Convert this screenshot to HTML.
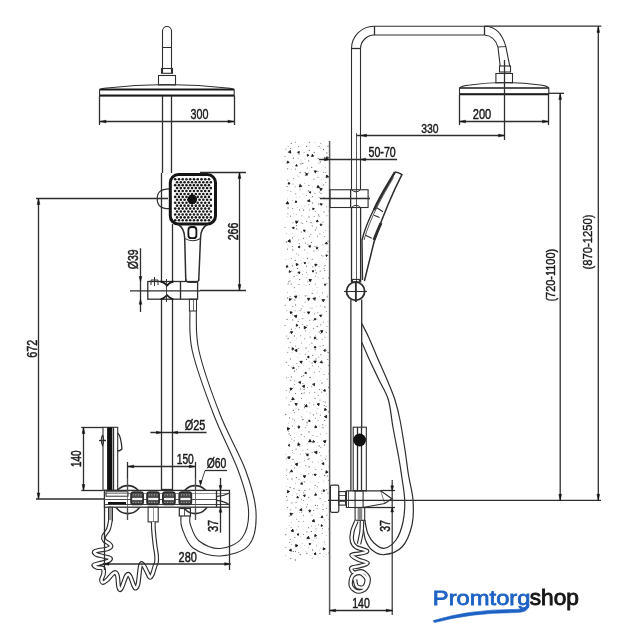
<!DOCTYPE html>
<html><head><meta charset="utf-8"><style>
html,body{margin:0;padding:0;background:#fff;width:626px;height:640px;overflow:hidden}
svg{display:block;will-change:transform}
text{font-family:"Liberation Sans",sans-serif}
</style></head><body>
<svg width="626" height="640" viewBox="0 0 626 640">
<path d="M162.5,73 L162.5,31 A4.5,4.5 0 0 1 171.5,31 L171.5,73" stroke="#2e2e2e" stroke-width="1.1" fill="none" />
<line x1="162.50" y1="47.50" x2="171.50" y2="47.50" stroke="#2e2e2e" stroke-width="1.0"/>
<rect x="161.5" y="68.5" width="11" height="4.8" rx="0" stroke="#2e2e2e" stroke-width="1.1" fill="none"/>
<rect x="158.5" y="75.5" width="17" height="9.5" rx="0" stroke="#2e2e2e" stroke-width="1.1" fill="none"/>
<path d="M99.6,95.6 L99.6,90 Q100,89 104,88.2 Q167,80.8 230,88.2 Q234,89 234.2,90 L234.2,95.6 Z" stroke="#2e2e2e" stroke-width="1.1" fill="none" />
<line x1="99.60" y1="89.50" x2="234.20" y2="89.50" stroke="#1a1a1a" stroke-width="1.8"/>
<line x1="99.60" y1="95.50" x2="234.20" y2="95.50" stroke="#1a1a1a" stroke-width="2.0"/>
<line x1="99.50" y1="96.00" x2="99.50" y2="125.00" stroke="#2e2e2e" stroke-width="1.3"/>
<line x1="234.50" y1="96.00" x2="234.50" y2="125.00" stroke="#2e2e2e" stroke-width="1.3"/>
<line x1="99.60" y1="121.50" x2="234.20" y2="121.50" stroke="#2e2e2e" stroke-width="1.3"/>
<polygon points="100.00,121.50 106.00,120.15 106.00,122.85" fill="#151515" stroke="#151515" stroke-width="0.5"/>
<polygon points="234.00,121.50 228.00,120.15 228.00,122.85" fill="#151515" stroke="#151515" stroke-width="0.5"/>
<text transform="translate(190.49,119.28) scale(0.752,1)" font-size="14.30" fill="#1a1a1a" stroke="#1a1a1a" stroke-width="0.47">300</text>
<line x1="162.50" y1="96.00" x2="162.50" y2="173.00" stroke="#2e2e2e" stroke-width="1.3"/>
<line x1="171.50" y1="96.00" x2="171.50" y2="173.00" stroke="#2e2e2e" stroke-width="1.3"/>
<line x1="161.50" y1="173.00" x2="161.50" y2="283.00" stroke="#2e2e2e" stroke-width="1.3"/>
<line x1="172.50" y1="224.00" x2="172.50" y2="283.00" stroke="#2e2e2e" stroke-width="1.3"/>
<line x1="161.50" y1="300.00" x2="161.50" y2="490.00" stroke="#2e2e2e" stroke-width="1.3"/>
<line x1="172.50" y1="300.00" x2="172.50" y2="490.00" stroke="#2e2e2e" stroke-width="1.3"/>
<line x1="161.50" y1="489.50" x2="172.50" y2="489.50" stroke="#2e2e2e" stroke-width="1.3"/>
<path d="M169,188.8 Q157,189 157.2,198.8 Q157,208.7 169,208.7" stroke="#2e2e2e" stroke-width="1.2" fill="none" />
<g fill="#1a1a1a"><circle cx="175.20" cy="179.30" r="1.3"/><circle cx="178.95" cy="179.30" r="1.3"/><circle cx="182.70" cy="179.30" r="1.3"/><circle cx="186.45" cy="179.30" r="1.3"/><circle cx="190.20" cy="179.30" r="1.3"/><circle cx="193.95" cy="179.30" r="1.3"/><circle cx="197.70" cy="179.30" r="1.3"/><circle cx="201.45" cy="179.30" r="1.3"/><circle cx="205.20" cy="179.30" r="1.3"/><circle cx="208.95" cy="179.30" r="1.3"/><circle cx="177.07" cy="182.23" r="1.3"/><circle cx="180.82" cy="182.23" r="1.3"/><circle cx="184.57" cy="182.23" r="1.3"/><circle cx="188.32" cy="182.23" r="1.3"/><circle cx="192.07" cy="182.23" r="1.3"/><circle cx="195.82" cy="182.23" r="1.3"/><circle cx="199.57" cy="182.23" r="1.3"/><circle cx="203.32" cy="182.23" r="1.3"/><circle cx="207.07" cy="182.23" r="1.3"/><circle cx="210.82" cy="182.23" r="1.3"/><circle cx="175.20" cy="185.16" r="1.3"/><circle cx="178.95" cy="185.16" r="1.3"/><circle cx="182.70" cy="185.16" r="1.3"/><circle cx="186.45" cy="185.16" r="1.3"/><circle cx="190.20" cy="185.16" r="1.3"/><circle cx="193.95" cy="185.16" r="1.3"/><circle cx="197.70" cy="185.16" r="1.3"/><circle cx="201.45" cy="185.16" r="1.3"/><circle cx="205.20" cy="185.16" r="1.3"/><circle cx="208.95" cy="185.16" r="1.3"/><circle cx="177.07" cy="188.09" r="1.3"/><circle cx="180.82" cy="188.09" r="1.3"/><circle cx="184.57" cy="188.09" r="1.3"/><circle cx="188.32" cy="188.09" r="1.3"/><circle cx="192.07" cy="188.09" r="1.3"/><circle cx="195.82" cy="188.09" r="1.3"/><circle cx="199.57" cy="188.09" r="1.3"/><circle cx="203.32" cy="188.09" r="1.3"/><circle cx="207.07" cy="188.09" r="1.3"/><circle cx="210.82" cy="188.09" r="1.3"/><circle cx="175.20" cy="191.02" r="1.3"/><circle cx="178.95" cy="191.02" r="1.3"/><circle cx="182.70" cy="191.02" r="1.3"/><circle cx="186.45" cy="191.02" r="1.3"/><circle cx="190.20" cy="191.02" r="1.3"/><circle cx="193.95" cy="191.02" r="1.3"/><circle cx="197.70" cy="191.02" r="1.3"/><circle cx="201.45" cy="191.02" r="1.3"/><circle cx="205.20" cy="191.02" r="1.3"/><circle cx="208.95" cy="191.02" r="1.3"/><circle cx="177.07" cy="193.95" r="1.3"/><circle cx="180.82" cy="193.95" r="1.3"/><circle cx="184.57" cy="193.95" r="1.3"/><circle cx="188.32" cy="193.95" r="1.3"/><circle cx="192.07" cy="193.95" r="1.3"/><circle cx="195.82" cy="193.95" r="1.3"/><circle cx="199.57" cy="193.95" r="1.3"/><circle cx="203.32" cy="193.95" r="1.3"/><circle cx="207.07" cy="193.95" r="1.3"/><circle cx="210.82" cy="193.95" r="1.3"/><circle cx="175.20" cy="196.88" r="1.3"/><circle cx="178.95" cy="196.88" r="1.3"/><circle cx="182.70" cy="196.88" r="1.3"/><circle cx="186.45" cy="196.88" r="1.3"/><circle cx="190.20" cy="196.88" r="1.3"/><circle cx="193.95" cy="196.88" r="1.3"/><circle cx="197.70" cy="196.88" r="1.3"/><circle cx="201.45" cy="196.88" r="1.3"/><circle cx="205.20" cy="196.88" r="1.3"/><circle cx="208.95" cy="196.88" r="1.3"/><circle cx="177.07" cy="199.81" r="1.3"/><circle cx="180.82" cy="199.81" r="1.3"/><circle cx="184.57" cy="199.81" r="1.3"/><circle cx="188.32" cy="199.81" r="1.3"/><circle cx="192.07" cy="199.81" r="1.3"/><circle cx="195.82" cy="199.81" r="1.3"/><circle cx="199.57" cy="199.81" r="1.3"/><circle cx="203.32" cy="199.81" r="1.3"/><circle cx="207.07" cy="199.81" r="1.3"/><circle cx="210.82" cy="199.81" r="1.3"/><circle cx="175.20" cy="202.74" r="1.3"/><circle cx="178.95" cy="202.74" r="1.3"/><circle cx="182.70" cy="202.74" r="1.3"/><circle cx="186.45" cy="202.74" r="1.3"/><circle cx="190.20" cy="202.74" r="1.3"/><circle cx="193.95" cy="202.74" r="1.3"/><circle cx="197.70" cy="202.74" r="1.3"/><circle cx="201.45" cy="202.74" r="1.3"/><circle cx="205.20" cy="202.74" r="1.3"/><circle cx="208.95" cy="202.74" r="1.3"/><circle cx="177.07" cy="205.67" r="1.3"/><circle cx="180.82" cy="205.67" r="1.3"/><circle cx="184.57" cy="205.67" r="1.3"/><circle cx="188.32" cy="205.67" r="1.3"/><circle cx="192.07" cy="205.67" r="1.3"/><circle cx="195.82" cy="205.67" r="1.3"/><circle cx="199.57" cy="205.67" r="1.3"/><circle cx="203.32" cy="205.67" r="1.3"/><circle cx="207.07" cy="205.67" r="1.3"/><circle cx="210.82" cy="205.67" r="1.3"/><circle cx="175.20" cy="208.60" r="1.3"/><circle cx="178.95" cy="208.60" r="1.3"/><circle cx="182.70" cy="208.60" r="1.3"/><circle cx="186.45" cy="208.60" r="1.3"/><circle cx="190.20" cy="208.60" r="1.3"/><circle cx="193.95" cy="208.60" r="1.3"/><circle cx="197.70" cy="208.60" r="1.3"/><circle cx="201.45" cy="208.60" r="1.3"/><circle cx="205.20" cy="208.60" r="1.3"/><circle cx="208.95" cy="208.60" r="1.3"/><circle cx="177.07" cy="211.53" r="1.3"/><circle cx="180.82" cy="211.53" r="1.3"/><circle cx="184.57" cy="211.53" r="1.3"/><circle cx="188.32" cy="211.53" r="1.3"/><circle cx="192.07" cy="211.53" r="1.3"/><circle cx="195.82" cy="211.53" r="1.3"/><circle cx="199.57" cy="211.53" r="1.3"/><circle cx="203.32" cy="211.53" r="1.3"/><circle cx="207.07" cy="211.53" r="1.3"/><circle cx="210.82" cy="211.53" r="1.3"/><circle cx="175.20" cy="214.46" r="1.3"/><circle cx="178.95" cy="214.46" r="1.3"/><circle cx="182.70" cy="214.46" r="1.3"/><circle cx="186.45" cy="214.46" r="1.3"/><circle cx="190.20" cy="214.46" r="1.3"/><circle cx="193.95" cy="214.46" r="1.3"/><circle cx="197.70" cy="214.46" r="1.3"/><circle cx="201.45" cy="214.46" r="1.3"/><circle cx="205.20" cy="214.46" r="1.3"/><circle cx="208.95" cy="214.46" r="1.3"/><circle cx="177.07" cy="217.39" r="1.3"/><circle cx="180.82" cy="217.39" r="1.3"/><circle cx="184.57" cy="217.39" r="1.3"/><circle cx="188.32" cy="217.39" r="1.3"/><circle cx="192.07" cy="217.39" r="1.3"/><circle cx="195.82" cy="217.39" r="1.3"/><circle cx="199.57" cy="217.39" r="1.3"/><circle cx="203.32" cy="217.39" r="1.3"/><circle cx="207.07" cy="217.39" r="1.3"/><circle cx="210.82" cy="217.39" r="1.3"/><circle cx="175.20" cy="220.32" r="1.3"/><circle cx="178.95" cy="220.32" r="1.3"/><circle cx="182.70" cy="220.32" r="1.3"/><circle cx="186.45" cy="220.32" r="1.3"/><circle cx="190.20" cy="220.32" r="1.3"/><circle cx="193.95" cy="220.32" r="1.3"/><circle cx="197.70" cy="220.32" r="1.3"/><circle cx="201.45" cy="220.32" r="1.3"/><circle cx="205.20" cy="220.32" r="1.3"/><circle cx="208.95" cy="220.32" r="1.3"/></g>
<circle cx="192.2" cy="199.4" r="4.8" stroke="#2e2e2e" stroke-width="0" fill="#111"/>
<rect x="170.3" y="174.6" width="45.2" height="49.4" rx="8" stroke="#141414" stroke-width="3.0" fill="none"/>
<path d="M178.2,224.5 Q184.5,228 184.7,238.4 L185.8,281" stroke="#2e2e2e" stroke-width="1.5" fill="none" />
<path d="M207.5,224.5 Q200.5,228 200.5,238.4 L198.7,281" stroke="#2e2e2e" stroke-width="1.5" fill="none" />
<rect x="188.4" y="227" width="8" height="11.2" rx="3" stroke="#141414" stroke-width="1.8" fill="none"/>
<path d="M184.7,238.4 Q192.5,243 200.5,238.4" stroke="#2e2e2e" stroke-width="1.1" fill="none" />
<line x1="200.00" y1="172.50" x2="246.00" y2="172.50" stroke="#2e2e2e" stroke-width="1.3"/>
<line x1="200.00" y1="290.50" x2="246.00" y2="290.50" stroke="#2e2e2e" stroke-width="1.3"/>
<line x1="239.50" y1="172.50" x2="239.50" y2="290.50" stroke="#2e2e2e" stroke-width="1.3"/>
<polygon points="239.50,172.50 238.15,178.50 240.85,178.50" fill="#151515" stroke="#151515" stroke-width="0.5"/>
<polygon points="239.50,290.50 238.15,284.50 240.85,284.50" fill="#151515" stroke="#151515" stroke-width="0.5"/>
<text transform="translate(237.57,240.25) rotate(-90) scale(0.688,1)" font-size="15.28" fill="#1a1a1a" stroke="#1a1a1a" stroke-width="0.51">266</text>
<line x1="36.00" y1="198.50" x2="168.00" y2="198.50" stroke="#2e2e2e" stroke-width="1.3"/>
<line x1="36.00" y1="499.00" x2="104.00" y2="499.00" stroke="#2e2e2e" stroke-width="1.3"/>
<line x1="38.50" y1="198.50" x2="38.50" y2="499.00" stroke="#2e2e2e" stroke-width="1.3"/>
<polygon points="38.50,198.50 37.15,204.50 39.85,204.50" fill="#151515" stroke="#151515" stroke-width="0.5"/>
<polygon points="38.50,499.00 37.15,493.00 39.85,493.00" fill="#151515" stroke="#151515" stroke-width="0.5"/>
<text transform="translate(36.68,357.77) rotate(-90) scale(0.722,1)" font-size="15.00" fill="#1a1a1a" stroke="#1a1a1a" stroke-width="0.48">672</text>
<rect x="147.8" y="281.5" width="49.8" height="17.7" rx="0" stroke="#2e2e2e" stroke-width="1.3" fill="none"/>
<line x1="130.00" y1="290.80" x2="200.00" y2="290.80" stroke="#2e2e2e" stroke-width="1.3"/>
<path d="M160.5,281.5 Q163,281.5 167,285.5 Q171,281.5 173.5,281.5" stroke="#1a1a1a" stroke-width="1.8" fill="none" />
<path d="M160.5,299.2 Q163,299.2 167,295.2 Q171,299.2 173.5,299.2" stroke="#1a1a1a" stroke-width="1.8" fill="none" />
<line x1="166.50" y1="279.00" x2="166.50" y2="302.00" stroke="#2e2e2e" stroke-width="0.9"/>
<line x1="180.50" y1="281.50" x2="180.50" y2="299.20" stroke="#2e2e2e" stroke-width="1.4"/>
<line x1="140.50" y1="248.20" x2="140.50" y2="312.00" stroke="#2e2e2e" stroke-width="1.3"/>
<polygon points="140.50,281.50 139.15,276.50 141.85,276.50" fill="#151515" stroke="#151515" stroke-width="0.5"/>
<polygon points="140.50,299.20 139.15,304.20 141.85,304.20" fill="#151515" stroke="#151515" stroke-width="0.5"/>
<text transform="translate(138.47,269.19) rotate(-90) scale(0.736,1)" font-size="14.30" fill="#1a1a1a" stroke="#1a1a1a" stroke-width="0.48">Ø39</text>
<path d="M151,285 L151,280 L158,280 L158,285 M154.5,277 L154.5,286" stroke="#2e2e2e" stroke-width="1.0" fill="none" />
<path d="M185.8,279 Q186,282.5 189.5,282.5 L195.5,282.5 Q198.7,282.5 198.7,279" stroke="#2e2e2e" stroke-width="1.2" fill="none" />
<rect x="189.4" y="299.2" width="7.1" height="11.8" rx="0" stroke="#2e2e2e" stroke-width="1.0" fill="none"/>
<line x1="193.50" y1="300.00" x2="193.50" y2="311.00" stroke="#2e2e2e" stroke-width="0.7"/>
<path d="M189.90,311.00 C190.30,317.67 188.32,333.67 192.30,351.00 C196.28,368.33 206.18,395.17 213.80,415.00 C221.42,434.83 232.22,454.17 238.00,470.00 C243.78,485.83 247.83,498.67 248.50,510.00 C249.17,521.33 246.75,531.58 242.00,538.00 C237.25,544.42 227.17,548.00 220.00,548.50 C212.83,549.00 203.92,544.92 199.00,541.00 C194.08,537.08 192.00,529.17 190.50,525.00 C189.00,520.83 190.08,517.50 190.00,516.00" stroke="#2e2e2e" stroke-width="1.1" fill="none" />
<path d="M196.30,311.00 C196.75,317.67 195.00,333.67 199.00,351.00 C203.00,368.33 212.55,395.17 220.30,415.00 C228.05,434.83 239.55,453.83 245.50,470.00 C251.45,486.17 255.42,499.50 256.00,512.00 C256.58,524.50 255.00,537.67 249.00,545.00 C243.00,552.33 229.33,555.50 220.00,556.00 C210.67,556.50 199.33,552.67 193.00,548.00 C186.67,543.33 184.00,533.33 182.00,528.00 C180.00,522.67 181.17,518.00 181.00,516.00" stroke="#2e2e2e" stroke-width="1.1" fill="none" />
<line x1="150.40" y1="432.50" x2="206.60" y2="432.50" stroke="#2e2e2e" stroke-width="1.3"/>
<polygon points="161.50,432.50 156.50,431.15 156.50,433.85" fill="#151515" stroke="#151515" stroke-width="0.5"/>
<polygon points="172.50,432.50 177.50,431.15 177.50,433.85" fill="#151515" stroke="#151515" stroke-width="0.5"/>
<text transform="translate(184.79,430.26) scale(0.751,1)" font-size="14.56" fill="#1a1a1a" stroke="#1a1a1a" stroke-width="0.47">Ø25</text>
<line x1="127.70" y1="466.50" x2="195.30" y2="466.50" stroke="#2e2e2e" stroke-width="1.3"/>
<polygon points="127.70,466.50 133.70,465.15 133.70,467.85" fill="#151515" stroke="#151515" stroke-width="0.5"/>
<polygon points="195.30,466.50 189.30,465.15 189.30,467.85" fill="#151515" stroke="#151515" stroke-width="0.5"/>
<line x1="127.50" y1="462.00" x2="127.50" y2="520.00" stroke="#2e2e2e" stroke-width="1.3"/>
<line x1="195.50" y1="462.00" x2="195.50" y2="520.00" stroke="#2e2e2e" stroke-width="1.3"/>
<text transform="translate(176.71,464.09) scale(0.747,1)" font-size="13.73" fill="#1a1a1a" stroke="#1a1a1a" stroke-width="0.47">150</text>
<text transform="translate(206.81,468.18) scale(0.753,1)" font-size="13.76" fill="#1a1a1a" stroke="#1a1a1a" stroke-width="0.46">Ø60</text>
<line x1="205.00" y1="470.50" x2="227.10" y2="470.50" stroke="#2e2e2e" stroke-width="1.3"/>
<line x1="205.00" y1="470.50" x2="200.50" y2="484.50" stroke="#2e2e2e" stroke-width="0.9"/>
<polygon points="200.50,485.50 199.15,480.50 201.85,480.50" fill="#151515" stroke="#151515" stroke-width="0.5"/>
<line x1="81.30" y1="427.50" x2="103.00" y2="427.50" stroke="#2e2e2e" stroke-width="1.3"/>
<line x1="81.30" y1="490.50" x2="103.00" y2="490.50" stroke="#2e2e2e" stroke-width="1.3"/>
<line x1="83.50" y1="427.50" x2="83.50" y2="490.50" stroke="#2e2e2e" stroke-width="1.3"/>
<polygon points="83.50,427.50 82.15,433.50 84.85,433.50" fill="#151515" stroke="#151515" stroke-width="0.5"/>
<polygon points="83.50,490.50 82.15,484.50 84.85,484.50" fill="#151515" stroke="#151515" stroke-width="0.5"/>
<text transform="translate(81.27,467.08) rotate(-90) scale(0.671,1)" font-size="15.00" fill="#1a1a1a" stroke="#1a1a1a" stroke-width="0.52">140</text>
<rect x="103" y="427.3" width="14.7" height="63" rx="0" stroke="#2e2e2e" stroke-width="1.1" fill="none"/>
<rect x="107.1" y="427.3" width="5.2" height="63" rx="0" stroke="#2e2e2e" stroke-width="0" fill="#111"/>
<line x1="113.50" y1="427.30" x2="113.50" y2="490.00" stroke="#2e2e2e" stroke-width="1.3"/>
<path d="M117.7,433 Q121,436 122,449 Q120,451 117.7,451" stroke="#2e2e2e" stroke-width="1.3" fill="none" />
<path d="M102.5,435 Q100,440 102.5,445.6 Q105,440 102.5,435" stroke="#2e2e2e" stroke-width="1.1" fill="none" />
<line x1="99.00" y1="440.50" x2="106.00" y2="440.50" stroke="#2e2e2e" stroke-width="1.3"/>
<circle cx="127.8" cy="499.6" r="14" stroke="#2e2e2e" stroke-width="1.6" fill="none"/>
<circle cx="195.2" cy="499.6" r="14" stroke="#2e2e2e" stroke-width="1.6" fill="none"/>
<rect x="104.4" y="490.4" width="125.1" height="16.8" rx="0" stroke="#2e2e2e" stroke-width="1.3" fill="#fff"/>
<line x1="104.40" y1="493.50" x2="229.50" y2="493.50" stroke="#666" stroke-width="0.7"/>
<line x1="104.40" y1="499.50" x2="216.00" y2="499.50" stroke="#555" stroke-width="1.0"/>
<line x1="104.40" y1="504.50" x2="229.50" y2="504.50" stroke="#2e2e2e" stroke-width="0.9"/>
<rect x="106" y="491.8" width="22" height="4.4" rx="0" stroke="#2e2e2e" stroke-width="1.0" fill="none"/>
<rect x="108" y="502" width="18" height="2.2" rx="0" stroke="#2e2e2e" stroke-width="0" fill="#111"/>
<rect x="131.1" y="492.2" width="12" height="12.2" rx="2.5" stroke="#2e2e2e" stroke-width="1.8" fill="#4a4a4a"/>
<rect x="132.2" y="497.9" width="10" height="2.2" rx="0" stroke="#2e2e2e" stroke-width="0" fill="#f0f0f0"/>
<circle cx="133.2" cy="494.8" r="0.6" fill="#ccc"/><circle cx="135.8" cy="494.8" r="0.6" fill="#ccc"/><circle cx="138.4" cy="494.8" r="0.6" fill="#ccc"/><circle cx="141.0" cy="494.8" r="0.6" fill="#ccc"/>
<circle cx="133.2" cy="502.4" r="0.6" fill="#aaa"/><circle cx="135.8" cy="502.4" r="0.6" fill="#aaa"/><circle cx="138.4" cy="502.4" r="0.6" fill="#aaa"/><circle cx="141.0" cy="502.4" r="0.6" fill="#aaa"/>
<rect x="147.1" y="492.2" width="12" height="12.2" rx="2.5" stroke="#2e2e2e" stroke-width="1.8" fill="#4a4a4a"/>
<rect x="148.2" y="497.9" width="10" height="2.2" rx="0" stroke="#2e2e2e" stroke-width="0" fill="#f0f0f0"/>
<circle cx="149.2" cy="494.8" r="0.6" fill="#ccc"/><circle cx="151.8" cy="494.8" r="0.6" fill="#ccc"/><circle cx="154.4" cy="494.8" r="0.6" fill="#ccc"/><circle cx="157.0" cy="494.8" r="0.6" fill="#ccc"/>
<circle cx="149.2" cy="502.4" r="0.6" fill="#aaa"/><circle cx="151.8" cy="502.4" r="0.6" fill="#aaa"/><circle cx="154.4" cy="502.4" r="0.6" fill="#aaa"/><circle cx="157.0" cy="502.4" r="0.6" fill="#aaa"/>
<rect x="162.9" y="492.2" width="12" height="12.2" rx="2.5" stroke="#2e2e2e" stroke-width="1.8" fill="#4a4a4a"/>
<rect x="164" y="497.9" width="10" height="2.2" rx="0" stroke="#2e2e2e" stroke-width="0" fill="#f0f0f0"/>
<circle cx="165.0" cy="494.8" r="0.6" fill="#ccc"/><circle cx="167.6" cy="494.8" r="0.6" fill="#ccc"/><circle cx="170.2" cy="494.8" r="0.6" fill="#ccc"/><circle cx="172.8" cy="494.8" r="0.6" fill="#ccc"/>
<circle cx="165.0" cy="502.4" r="0.6" fill="#aaa"/><circle cx="167.6" cy="502.4" r="0.6" fill="#aaa"/><circle cx="170.2" cy="502.4" r="0.6" fill="#aaa"/><circle cx="172.8" cy="502.4" r="0.6" fill="#aaa"/>
<rect x="179.3" y="492.2" width="12" height="12.2" rx="2.5" stroke="#2e2e2e" stroke-width="1.8" fill="#4a4a4a"/>
<rect x="180.4" y="497.9" width="10" height="2.2" rx="0" stroke="#2e2e2e" stroke-width="0" fill="#f0f0f0"/>
<circle cx="181.4" cy="494.8" r="0.6" fill="#ccc"/><circle cx="184.0" cy="494.8" r="0.6" fill="#ccc"/><circle cx="186.6" cy="494.8" r="0.6" fill="#ccc"/><circle cx="189.2" cy="494.8" r="0.6" fill="#ccc"/>
<circle cx="181.4" cy="502.4" r="0.6" fill="#aaa"/><circle cx="184.0" cy="502.4" r="0.6" fill="#aaa"/><circle cx="186.6" cy="502.4" r="0.6" fill="#aaa"/><circle cx="189.2" cy="502.4" r="0.6" fill="#aaa"/>
<line x1="216.50" y1="490.40" x2="216.50" y2="507.20" stroke="#2e2e2e" stroke-width="1.3"/>
<path d="M216.8,496.4 Q224,496 229.5,493" stroke="#2e2e2e" stroke-width="1.1" fill="none" />
<path d="M216.8,500.4 Q224,501 229.5,505" stroke="#2e2e2e" stroke-width="1.1" fill="none" />
<line x1="127.50" y1="478.00" x2="127.50" y2="520.00" stroke="#555" stroke-width="0.8"/>
<line x1="195.50" y1="478.00" x2="195.50" y2="520.00" stroke="#555" stroke-width="0.8"/>
<line x1="220.50" y1="478.00" x2="220.50" y2="532.70" stroke="#2e2e2e" stroke-width="1.3"/>
<polygon points="220.50,490.40 219.15,485.40 221.85,485.40" fill="#151515" stroke="#151515" stroke-width="0.5"/>
<polygon points="220.50,507.20 219.15,512.20 221.85,512.20" fill="#151515" stroke="#151515" stroke-width="0.5"/>
<text transform="translate(218.47,532.07) rotate(-90) scale(0.728,1)" font-size="15.28" fill="#1a1a1a" stroke="#1a1a1a" stroke-width="0.48">37</text>
<rect x="108.5" y="507.2" width="4" height="13.4" rx="0" stroke="#2e2e2e" stroke-width="1.0" fill="#999"/>
<rect x="148.1" y="507.2" width="10.1" height="14.7" rx="0" stroke="#2e2e2e" stroke-width="1.1" fill="none"/>
<line x1="153.50" y1="507.20" x2="153.50" y2="522.00" stroke="#777" stroke-width="0.8"/>
<rect x="179.3" y="508.5" width="11.1" height="7.5" rx="0" stroke="#2e2e2e" stroke-width="1.2" fill="none"/>
<line x1="184.50" y1="509.00" x2="184.50" y2="516.00" stroke="#2e2e2e" stroke-width="0.8"/>
<path d="M110.50,520.00 C110.17,521.50 109.65,526.25 108.50,529.00 C107.35,531.75 104.27,534.58 103.60,536.50 C102.93,538.42 103.60,539.33 104.50,540.50 C105.40,541.67 107.92,542.50 109.00,543.50 C110.08,544.50 111.33,545.58 111.00,546.50 C110.67,547.42 109.00,548.37 107.00,549.00 C105.00,549.63 101.12,549.83 99.00,550.30 C96.88,550.77 94.72,551.10 94.30,551.80 C93.88,552.50 94.88,553.72 96.50,554.50 C98.12,555.28 101.67,555.83 104.00,556.50 C106.33,557.17 110.00,557.67 110.50,558.50 C111.00,559.33 108.92,560.67 107.00,561.50 C105.08,562.33 101.20,562.92 99.00,563.50 C96.80,564.08 94.13,564.33 93.80,565.00 C93.47,565.67 95.47,566.95 97.00,567.50 C98.53,568.05 101.92,567.22 103.00,568.30 C104.08,569.38 103.75,572.13 103.50,574.00 C103.25,575.87 101.58,578.08 101.50,579.50 C101.42,580.92 102.08,582.42 103.00,582.50 C103.92,582.58 105.50,581.33 107.00,580.00 C108.50,578.67 110.62,575.75 112.00,574.50 C113.38,573.25 114.38,572.25 115.30,572.50 C116.22,572.75 116.97,573.75 117.50,576.00 C118.03,578.25 118.08,583.70 118.50,586.00 C118.92,588.30 119.42,589.63 120.00,589.80 C120.58,589.97 121.00,589.22 122.00,587.00 C123.00,584.78 124.95,578.63 126.00,576.50 C127.05,574.37 127.55,574.12 128.30,574.20 C129.05,574.28 129.63,575.20 130.50,577.00 C131.37,578.80 132.67,583.13 133.50,585.00 C134.33,586.87 134.75,588.37 135.50,588.20 C136.25,588.03 137.25,587.37 138.00,584.00 C138.75,580.63 139.42,571.42 140.00,568.00 C140.58,564.58 140.83,563.83 141.50,563.50 C142.17,563.17 142.92,564.25 144.00,566.00 C145.08,567.75 147.00,572.10 148.00,574.00 C149.00,575.90 149.25,577.40 150.00,577.40 C150.75,577.40 151.67,575.90 152.50,574.00 C153.33,572.10 154.33,568.00 155.00,566.00 C155.67,564.00 156.25,563.83 156.50,562.00 C156.75,560.17 156.75,557.83 156.50,555.00 C156.25,552.17 155.50,549.17 155.00,545.00 C154.50,540.83 153.78,533.83 153.50,530.00 C153.22,526.17 153.33,523.33 153.30,522.00" stroke="#2e2e2e" stroke-width="4.8" fill="none" />
<path d="M110.50,520.00 C110.17,521.50 109.65,526.25 108.50,529.00 C107.35,531.75 104.27,534.58 103.60,536.50 C102.93,538.42 103.60,539.33 104.50,540.50 C105.40,541.67 107.92,542.50 109.00,543.50 C110.08,544.50 111.33,545.58 111.00,546.50 C110.67,547.42 109.00,548.37 107.00,549.00 C105.00,549.63 101.12,549.83 99.00,550.30 C96.88,550.77 94.72,551.10 94.30,551.80 C93.88,552.50 94.88,553.72 96.50,554.50 C98.12,555.28 101.67,555.83 104.00,556.50 C106.33,557.17 110.00,557.67 110.50,558.50 C111.00,559.33 108.92,560.67 107.00,561.50 C105.08,562.33 101.20,562.92 99.00,563.50 C96.80,564.08 94.13,564.33 93.80,565.00 C93.47,565.67 95.47,566.95 97.00,567.50 C98.53,568.05 101.92,567.22 103.00,568.30 C104.08,569.38 103.75,572.13 103.50,574.00 C103.25,575.87 101.58,578.08 101.50,579.50 C101.42,580.92 102.08,582.42 103.00,582.50 C103.92,582.58 105.50,581.33 107.00,580.00 C108.50,578.67 110.62,575.75 112.00,574.50 C113.38,573.25 114.38,572.25 115.30,572.50 C116.22,572.75 116.97,573.75 117.50,576.00 C118.03,578.25 118.08,583.70 118.50,586.00 C118.92,588.30 119.42,589.63 120.00,589.80 C120.58,589.97 121.00,589.22 122.00,587.00 C123.00,584.78 124.95,578.63 126.00,576.50 C127.05,574.37 127.55,574.12 128.30,574.20 C129.05,574.28 129.63,575.20 130.50,577.00 C131.37,578.80 132.67,583.13 133.50,585.00 C134.33,586.87 134.75,588.37 135.50,588.20 C136.25,588.03 137.25,587.37 138.00,584.00 C138.75,580.63 139.42,571.42 140.00,568.00 C140.58,564.58 140.83,563.83 141.50,563.50 C142.17,563.17 142.92,564.25 144.00,566.00 C145.08,567.75 147.00,572.10 148.00,574.00 C149.00,575.90 149.25,577.40 150.00,577.40 C150.75,577.40 151.67,575.90 152.50,574.00 C153.33,572.10 154.33,568.00 155.00,566.00 C155.67,564.00 156.25,563.83 156.50,562.00 C156.75,560.17 156.75,557.83 156.50,555.00 C156.25,552.17 155.50,549.17 155.00,545.00 C154.50,540.83 153.78,533.83 153.50,530.00 C153.22,526.17 153.33,523.33 153.30,522.00" stroke="#fff" stroke-width="2.5" fill="none" />
<line x1="102.80" y1="564.00" x2="230.60" y2="564.00" stroke="#2e2e2e" stroke-width="1.3"/>
<polygon points="102.80,564.00 108.80,562.65 108.80,565.35" fill="#151515" stroke="#151515" stroke-width="0.5"/>
<polygon points="230.60,564.00 224.60,562.65 224.60,565.35" fill="#151515" stroke="#151515" stroke-width="0.5"/>
<line x1="104.50" y1="507.00" x2="104.50" y2="570.00" stroke="#2e2e2e" stroke-width="1.3"/>
<line x1="229.50" y1="507.00" x2="229.50" y2="570.00" stroke="#2e2e2e" stroke-width="1.3"/>
<text transform="translate(178.53,562.28) scale(0.768,1)" font-size="14.30" fill="#1a1a1a" stroke="#1a1a1a" stroke-width="0.46">280</text>
<g fill="#1a1a1a"><polygon points="288.4,152.3 290.3,150.4 290.9,153.1" stroke="#111" stroke-width="0.8"/><polygon points="297.5,152.3 299.3,151.4 299.1,153.3" stroke="#111" stroke-width="0.8"/><polygon points="307.5,156.3 307.2,154.5 308.9,155.1" stroke="#111" stroke-width="0.8"/><polygon points="314.0,155.9 311.6,156.6 312.3,154.2" stroke="#111" stroke-width="0.8"/><polygon points="326.0,156.9 328.4,157.4 326.8,159.2" stroke="#111" stroke-width="0.8"/><polygon points="289.1,162.6 286.9,163.0 287.7,160.9" stroke="#111" stroke-width="0.8"/><polygon points="295.5,165.7 296.8,164.5 297.2,166.2" stroke="#111" stroke-width="0.8"/><polygon points="305.8,173.2 307.9,173.9 306.1,175.4" stroke="#111" stroke-width="0.8"/><polygon points="315.2,172.8 314.4,170.7 316.6,171.1" stroke="#111" stroke-width="0.8"/><polygon points="326.7,174.9 328.6,176.8 326.1,177.5" stroke="#111" stroke-width="0.8"/><polygon points="290.0,183.9 288.0,184.1 288.9,182.2" stroke="#111" stroke-width="0.8"/><polygon points="299.3,186.9 300.1,184.4 301.8,186.4" stroke="#111" stroke-width="0.8"/><polygon points="310.3,193.3 309.1,192.1 310.8,191.7" stroke="#111" stroke-width="0.8"/><polygon points="316.9,187.8 318.0,185.3 319.6,187.5" stroke="#111" stroke-width="0.8"/><polygon points="320.8,190.7 319.8,188.3 322.3,188.6" stroke="#111" stroke-width="0.8"/><polygon points="287.5,201.5 288.8,203.9 286.0,203.8" stroke="#111" stroke-width="0.8"/><polygon points="297.0,202.2 295.2,202.4 295.9,200.7" stroke="#111" stroke-width="0.8"/><polygon points="307.7,201.2 309.3,199.5 310.0,201.7" stroke="#111" stroke-width="0.8"/><polygon points="312.7,208.0 314.4,208.7 312.9,209.8" stroke="#111" stroke-width="0.8"/><polygon points="321.1,205.4 320.3,203.6 322.3,203.9" stroke="#111" stroke-width="0.8"/><polygon points="294.2,227.2 293.6,229.1 292.2,227.6" stroke="#111" stroke-width="0.8"/><polygon points="295.7,220.9 298.1,221.8 296.1,223.5" stroke="#111" stroke-width="0.8"/><polygon points="304.3,231.8 303.4,230.1 305.3,230.2" stroke="#111" stroke-width="0.8"/><polygon points="318.3,221.6 316.3,221.8 317.2,219.9" stroke="#111" stroke-width="0.8"/><polygon points="320.1,224.1 322.1,224.3 320.9,225.9" stroke="#111" stroke-width="0.8"/><polygon points="287.8,241.2 290.0,239.6 290.3,242.3" stroke="#111" stroke-width="0.8"/><polygon points="299.7,247.9 298.0,247.1 299.6,246.0" stroke="#111" stroke-width="0.8"/><polygon points="310.2,247.4 308.6,246.2 310.5,245.4" stroke="#111" stroke-width="0.8"/><polygon points="318.1,247.8 316.8,249.2 316.2,247.4" stroke="#111" stroke-width="0.8"/><polygon points="327.4,244.0 325.2,243.7 326.5,242.0" stroke="#111" stroke-width="0.8"/><polygon points="286.8,265.5 288.2,266.8 286.3,267.4" stroke="#111" stroke-width="0.8"/><polygon points="296.6,265.9 296.0,263.6 298.3,264.2" stroke="#111" stroke-width="0.8"/><polygon points="305.0,264.1 303.9,262.7 305.6,262.4" stroke="#111" stroke-width="0.8"/><polygon points="315.5,266.3 314.8,264.1 317.1,264.5" stroke="#111" stroke-width="0.8"/><polygon points="326.5,256.6 325.8,254.9 327.5,255.2" stroke="#111" stroke-width="0.8"/><polygon points="289.1,272.4 289.5,270.5 290.9,271.8" stroke="#111" stroke-width="0.8"/><polygon points="300.0,271.9 299.3,273.8 297.9,272.2" stroke="#111" stroke-width="0.8"/><polygon points="309.0,279.5 311.5,279.6 310.2,281.7" stroke="#111" stroke-width="0.8"/><polygon points="313.8,270.7 313.0,272.2 312.1,270.8" stroke="#111" stroke-width="0.8"/><polygon points="324.5,283.9 326.1,284.5 324.8,285.6" stroke="#111" stroke-width="0.8"/><polygon points="291.3,299.4 289.5,300.5 289.5,298.4" stroke="#111" stroke-width="0.8"/><polygon points="296.9,295.9 295.9,298.2 294.4,296.2" stroke="#111" stroke-width="0.8"/><polygon points="309.9,298.3 308.6,300.5 307.3,298.3" stroke="#111" stroke-width="0.8"/><polygon points="315.5,297.7 314.8,300.3 312.9,298.4" stroke="#111" stroke-width="0.8"/><polygon points="321.9,299.7 324.5,299.5 323.3,301.8" stroke="#111" stroke-width="0.8"/><polygon points="290.0,311.7 292.3,312.1 290.8,313.9" stroke="#111" stroke-width="0.8"/><polygon points="296.9,315.2 296.2,317.8 294.2,315.8" stroke="#111" stroke-width="0.8"/><polygon points="307.3,311.9 309.8,311.9 308.6,314.1" stroke="#111" stroke-width="0.8"/><polygon points="315.0,318.1 315.9,319.7 314.1,319.7" stroke="#111" stroke-width="0.8"/><polygon points="320.8,317.0 319.5,315.2 321.7,314.9" stroke="#111" stroke-width="0.8"/><polygon points="292.7,331.7 291.5,333.7 290.4,331.6" stroke="#111" stroke-width="0.8"/><polygon points="296.4,324.2 298.1,325.4 296.3,326.3" stroke="#111" stroke-width="0.8"/><polygon points="304.2,326.3 306.5,327.5 304.3,328.9" stroke="#111" stroke-width="0.8"/><polygon points="314.4,337.0 316.2,338.0 314.4,339.1" stroke="#111" stroke-width="0.8"/><polygon points="323.0,330.6 321.8,332.9 320.5,330.7" stroke="#111" stroke-width="0.8"/><polygon points="292.2,350.1 292.0,347.7 294.1,348.7" stroke="#111" stroke-width="0.8"/><polygon points="297.0,349.2 296.8,351.8 294.7,350.3" stroke="#111" stroke-width="0.8"/><polygon points="309.0,358.0 307.3,357.0 309.0,356.0" stroke="#111" stroke-width="0.8"/><polygon points="314.1,347.8 315.0,346.1 316.1,347.8" stroke="#111" stroke-width="0.8"/><polygon points="325.3,349.4 325.2,351.5 323.5,350.4" stroke="#111" stroke-width="0.8"/><polygon points="294.5,368.1 292.7,368.7 293.1,367.0" stroke="#111" stroke-width="0.8"/><polygon points="299.8,361.4 302.3,361.2 301.2,363.4" stroke="#111" stroke-width="0.8"/><polygon points="306.4,373.6 304.7,373.1 306.0,371.9" stroke="#111" stroke-width="0.8"/><polygon points="315.2,363.2 313.7,361.1 316.3,360.9" stroke="#111" stroke-width="0.8"/><polygon points="320.1,362.5 321.6,360.7 322.4,363.0" stroke="#111" stroke-width="0.8"/><polygon points="292.5,388.6 290.7,390.4 290.0,388.0" stroke="#111" stroke-width="0.8"/><polygon points="300.4,383.6 298.6,382.3 300.6,381.3" stroke="#111" stroke-width="0.8"/><polygon points="304.3,387.6 302.3,386.2 304.5,385.2" stroke="#111" stroke-width="0.8"/><polygon points="312.5,384.3 314.7,383.4 314.4,385.8" stroke="#111" stroke-width="0.8"/><polygon points="324.9,389.3 325.4,391.3 323.4,390.8" stroke="#111" stroke-width="0.8"/><polygon points="292.7,397.4 294.4,399.4 291.7,399.9" stroke="#111" stroke-width="0.8"/><polygon points="297.3,403.5 296.2,405.6 294.9,403.6" stroke="#111" stroke-width="0.8"/><polygon points="306.6,404.4 307.2,407.0 304.7,406.2" stroke="#111" stroke-width="0.8"/><polygon points="318.8,405.7 317.0,404.0 319.3,403.4" stroke="#111" stroke-width="0.8"/><polygon points="325.0,408.2 326.6,409.9 324.3,410.4" stroke="#111" stroke-width="0.8"/><polygon points="289.8,428.6 287.7,430.3 287.3,427.6" stroke="#111" stroke-width="0.8"/><polygon points="299.9,426.6 298.9,428.4 297.8,426.7" stroke="#111" stroke-width="0.8"/><polygon points="308.4,421.2 309.5,419.8 310.2,421.5" stroke="#111" stroke-width="0.8"/><polygon points="317.0,427.1 314.9,427.9 315.3,425.7" stroke="#111" stroke-width="0.8"/><polygon points="326.6,418.0 324.4,416.6 326.7,415.4" stroke="#111" stroke-width="0.8"/><polygon points="289.7,446.2 288.0,445.5 289.5,444.3" stroke="#111" stroke-width="0.8"/><polygon points="298.1,443.0 300.2,444.6 297.8,445.6" stroke="#111" stroke-width="0.8"/><polygon points="311.3,441.9 308.6,441.8 310.0,439.5" stroke="#111" stroke-width="0.8"/><polygon points="313.4,440.4 314.6,442.0 312.6,442.3" stroke="#111" stroke-width="0.8"/><polygon points="323.3,440.9 325.9,440.5 325.0,443.0" stroke="#111" stroke-width="0.8"/><polygon points="290.2,456.7 289.1,459.1 287.6,456.9" stroke="#111" stroke-width="0.8"/><polygon points="295.1,464.1 297.6,463.1 297.2,465.8" stroke="#111" stroke-width="0.8"/><polygon points="306.2,454.9 308.2,453.8 308.1,456.1" stroke="#111" stroke-width="0.8"/><polygon points="314.5,452.3 317.0,451.1 316.8,453.9" stroke="#111" stroke-width="0.8"/><polygon points="321.8,463.7 323.7,462.5 323.9,464.8" stroke="#111" stroke-width="0.8"/><polygon points="290.4,471.8 291.5,469.8 292.6,471.8" stroke="#111" stroke-width="0.8"/><polygon points="300.5,483.8 302.1,482.5 302.4,484.4" stroke="#111" stroke-width="0.8"/><polygon points="305.7,475.6 304.6,477.9 303.1,475.8" stroke="#111" stroke-width="0.8"/><polygon points="314.4,474.0 316.3,474.4 315.0,475.9" stroke="#111" stroke-width="0.8"/><polygon points="328.1,472.2 325.8,473.2 326.1,470.7" stroke="#111" stroke-width="0.8"/><polygon points="287.5,492.9 287.4,490.4 289.6,491.5" stroke="#111" stroke-width="0.8"/><polygon points="297.5,496.2 298.6,497.7 296.8,497.9" stroke="#111" stroke-width="0.8"/><polygon points="304.8,496.8 303.3,495.5 305.2,494.8" stroke="#111" stroke-width="0.8"/><polygon points="314.6,495.3 315.6,493.4 316.7,495.2" stroke="#111" stroke-width="0.8"/><polygon points="323.2,489.8 325.1,490.4 323.7,491.7" stroke="#111" stroke-width="0.8"/><polygon points="290.0,513.1 292.6,513.6 290.9,515.6" stroke="#111" stroke-width="0.8"/><polygon points="301.5,508.5 301.9,510.9 299.6,510.0" stroke="#111" stroke-width="0.8"/><polygon points="310.8,510.4 309.7,512.2 308.7,510.4" stroke="#111" stroke-width="0.8"/><polygon points="314.5,522.0 312.0,521.2 314.0,519.4" stroke="#111" stroke-width="0.8"/><polygon points="323.0,517.6 321.0,517.5 322.1,515.8" stroke="#111" stroke-width="0.8"/><polygon points="293.5,531.7 291.0,531.0 292.8,529.2" stroke="#111" stroke-width="0.8"/><polygon points="298.3,535.5 297.0,534.3 298.6,533.7" stroke="#111" stroke-width="0.8"/><polygon points="309.4,538.8 306.7,538.3 308.5,536.2" stroke="#111" stroke-width="0.8"/><polygon points="314.9,534.4 316.7,535.7 314.7,536.6" stroke="#111" stroke-width="0.8"/><polygon points="322.7,525.8 321.0,526.3 321.4,524.6" stroke="#111" stroke-width="0.8"/><polygon points="291.4,551.2 289.2,550.3 291.1,548.9" stroke="#111" stroke-width="0.8"/><polygon points="298.0,545.5 295.8,547.0 295.6,544.4" stroke="#111" stroke-width="0.8"/><polygon points="310.9,543.7 309.6,545.1 309.1,543.4" stroke="#111" stroke-width="0.8"/><polygon points="314.0,554.0 315.5,552.6 315.9,554.7" stroke="#111" stroke-width="0.8"/><polygon points="325.3,549.0 323.1,550.0 323.3,547.7" stroke="#111" stroke-width="0.8"/></g>
<g fill="#707070"><circle cx="288.1" cy="146.7" r="0.5"/><circle cx="291.2" cy="143.4" r="0.55"/><circle cx="295.6" cy="142.3" r="0.5"/><circle cx="298.6" cy="146.4" r="0.55"/><circle cx="306.5" cy="146.4" r="0.65"/><circle cx="309.5" cy="142.3" r="0.55"/><circle cx="314.9" cy="142.7" r="0.4"/><circle cx="319.1" cy="146.3" r="0.65"/><circle cx="320.8" cy="143.2" r="0.55"/><circle cx="328.0" cy="146.2" r="0.65"/><circle cx="285.9" cy="149.0" r="0.55"/><circle cx="290.7" cy="148.4" r="0.55"/><circle cx="298.2" cy="153.9" r="0.4"/><circle cx="299.2" cy="154.1" r="0.55"/><circle cx="304.1" cy="152.2" r="0.5"/><circle cx="309.3" cy="150.4" r="0.65"/><circle cx="314.2" cy="152.5" r="0.65"/><circle cx="320.1" cy="147.9" r="0.4"/><circle cx="323.5" cy="149.5" r="0.65"/><circle cx="326.8" cy="152.9" r="0.65"/><circle cx="285.0" cy="156.3" r="0.55"/><circle cx="293.4" cy="158.2" r="0.65"/><circle cx="298.1" cy="158.4" r="0.4"/><circle cx="301.0" cy="160.0" r="0.4"/><circle cx="305.0" cy="159.0" r="0.4"/><circle cx="308.7" cy="160.9" r="0.65"/><circle cx="313.5" cy="155.7" r="0.65"/><circle cx="318.2" cy="158.5" r="0.65"/><circle cx="324.4" cy="157.4" r="0.65"/><circle cx="327.2" cy="157.0" r="0.55"/><circle cx="287.1" cy="163.1" r="0.55"/><circle cx="292.3" cy="166.3" r="0.4"/><circle cx="293.9" cy="162.9" r="0.4"/><circle cx="301.0" cy="164.0" r="0.65"/><circle cx="302.8" cy="163.4" r="0.65"/><circle cx="307.2" cy="168.0" r="0.55"/><circle cx="311.7" cy="167.4" r="0.65"/><circle cx="319.0" cy="163.0" r="0.5"/><circle cx="320.4" cy="161.9" r="0.65"/><circle cx="325.2" cy="167.8" r="0.5"/><circle cx="287.7" cy="168.8" r="0.65"/><circle cx="291.4" cy="169.4" r="0.4"/><circle cx="295.4" cy="169.1" r="0.55"/><circle cx="300.1" cy="172.5" r="0.65"/><circle cx="305.2" cy="172.4" r="0.65"/><circle cx="308.6" cy="173.1" r="0.5"/><circle cx="315.6" cy="173.0" r="0.5"/><circle cx="317.9" cy="171.4" r="0.55"/><circle cx="323.7" cy="172.3" r="0.55"/><circle cx="325.8" cy="172.2" r="0.5"/><circle cx="287.8" cy="179.9" r="0.5"/><circle cx="293.6" cy="178.2" r="0.5"/><circle cx="297.7" cy="175.1" r="0.4"/><circle cx="298.2" cy="176.5" r="0.4"/><circle cx="305.3" cy="175.5" r="0.55"/><circle cx="307.3" cy="175.4" r="0.5"/><circle cx="313.8" cy="179.1" r="0.55"/><circle cx="317.9" cy="177.2" r="0.55"/><circle cx="321.7" cy="179.8" r="0.4"/><circle cx="328.1" cy="177.8" r="0.5"/><circle cx="287.0" cy="186.6" r="0.65"/><circle cx="293.0" cy="184.0" r="0.55"/><circle cx="295.1" cy="186.7" r="0.5"/><circle cx="300.1" cy="184.0" r="0.4"/><circle cx="304.6" cy="183.7" r="0.4"/><circle cx="308.9" cy="185.4" r="0.65"/><circle cx="312.7" cy="186.8" r="0.4"/><circle cx="317.2" cy="187.7" r="0.4"/><circle cx="323.3" cy="184.9" r="0.55"/><circle cx="325.8" cy="182.5" r="0.55"/><circle cx="287.9" cy="190.5" r="0.4"/><circle cx="290.8" cy="191.3" r="0.55"/><circle cx="295.7" cy="193.7" r="0.55"/><circle cx="300.2" cy="189.8" r="0.5"/><circle cx="303.0" cy="193.9" r="0.4"/><circle cx="308.6" cy="191.0" r="0.65"/><circle cx="314.9" cy="193.3" r="0.55"/><circle cx="319.3" cy="192.0" r="0.5"/><circle cx="321.0" cy="193.4" r="0.55"/><circle cx="328.2" cy="189.8" r="0.4"/><circle cx="287.4" cy="198.9" r="0.4"/><circle cx="292.3" cy="200.5" r="0.4"/><circle cx="296.4" cy="197.1" r="0.4"/><circle cx="299.7" cy="196.9" r="0.4"/><circle cx="306.6" cy="195.6" r="0.5"/><circle cx="307.4" cy="200.6" r="0.65"/><circle cx="312.5" cy="196.6" r="0.55"/><circle cx="319.2" cy="197.7" r="0.55"/><circle cx="323.8" cy="197.3" r="0.5"/><circle cx="326.8" cy="198.7" r="0.4"/><circle cx="288.1" cy="208.0" r="0.65"/><circle cx="292.7" cy="208.5" r="0.55"/><circle cx="297.6" cy="207.3" r="0.4"/><circle cx="302.1" cy="208.3" r="0.4"/><circle cx="304.9" cy="206.6" r="0.4"/><circle cx="308.9" cy="204.7" r="0.5"/><circle cx="312.5" cy="202.9" r="0.65"/><circle cx="318.8" cy="204.0" r="0.65"/><circle cx="322.1" cy="203.8" r="0.4"/><circle cx="326.7" cy="206.8" r="0.55"/><circle cx="287.9" cy="213.8" r="0.5"/><circle cx="293.4" cy="213.7" r="0.4"/><circle cx="296.4" cy="214.7" r="0.4"/><circle cx="299.6" cy="209.9" r="0.55"/><circle cx="303.6" cy="210.2" r="0.65"/><circle cx="309.6" cy="210.1" r="0.5"/><circle cx="315.3" cy="211.3" r="0.55"/><circle cx="318.6" cy="214.9" r="0.65"/><circle cx="324.0" cy="211.9" r="0.65"/><circle cx="328.6" cy="210.9" r="0.4"/><circle cx="287.1" cy="216.8" r="0.4"/><circle cx="290.4" cy="216.2" r="0.65"/><circle cx="298.1" cy="220.7" r="0.55"/><circle cx="301.7" cy="215.7" r="0.5"/><circle cx="306.5" cy="221.2" r="0.55"/><circle cx="309.0" cy="217.0" r="0.65"/><circle cx="314.1" cy="216.4" r="0.5"/><circle cx="319.2" cy="216.3" r="0.5"/><circle cx="323.0" cy="222.1" r="0.55"/><circle cx="326.9" cy="215.7" r="0.5"/><circle cx="285.0" cy="227.6" r="0.5"/><circle cx="293.0" cy="222.7" r="0.55"/><circle cx="296.5" cy="225.7" r="0.65"/><circle cx="301.3" cy="222.7" r="0.55"/><circle cx="302.7" cy="223.4" r="0.5"/><circle cx="311.0" cy="222.7" r="0.65"/><circle cx="312.3" cy="225.8" r="0.65"/><circle cx="316.5" cy="227.7" r="0.55"/><circle cx="321.6" cy="224.8" r="0.55"/><circle cx="329.0" cy="226.6" r="0.4"/><circle cx="286.6" cy="233.5" r="0.4"/><circle cx="292.3" cy="233.4" r="0.4"/><circle cx="296.7" cy="228.9" r="0.65"/><circle cx="301.3" cy="232.1" r="0.55"/><circle cx="305.1" cy="232.0" r="0.4"/><circle cx="310.8" cy="234.6" r="0.5"/><circle cx="315.4" cy="229.9" r="0.65"/><circle cx="319.9" cy="233.9" r="0.55"/><circle cx="323.5" cy="232.6" r="0.4"/><circle cx="325.7" cy="230.2" r="0.4"/><circle cx="286.4" cy="242.0" r="0.65"/><circle cx="292.6" cy="237.9" r="0.65"/><circle cx="294.2" cy="236.6" r="0.4"/><circle cx="298.8" cy="239.9" r="0.5"/><circle cx="303.4" cy="238.3" r="0.65"/><circle cx="309.6" cy="236.2" r="0.5"/><circle cx="311.5" cy="242.3" r="0.65"/><circle cx="317.6" cy="236.1" r="0.65"/><circle cx="324.3" cy="236.6" r="0.5"/><circle cx="328.0" cy="241.2" r="0.65"/><circle cx="287.1" cy="248.6" r="0.4"/><circle cx="292.6" cy="246.5" r="0.55"/><circle cx="298.1" cy="247.7" r="0.4"/><circle cx="299.3" cy="243.6" r="0.55"/><circle cx="305.5" cy="243.1" r="0.65"/><circle cx="307.9" cy="244.6" r="0.55"/><circle cx="315.0" cy="246.5" r="0.5"/><circle cx="316.9" cy="246.0" r="0.55"/><circle cx="322.6" cy="244.8" r="0.5"/><circle cx="327.1" cy="243.7" r="0.5"/><circle cx="287.5" cy="249.3" r="0.5"/><circle cx="292.8" cy="250.0" r="0.65"/><circle cx="296.3" cy="253.8" r="0.55"/><circle cx="298.6" cy="255.0" r="0.55"/><circle cx="304.6" cy="250.0" r="0.5"/><circle cx="308.0" cy="253.0" r="0.4"/><circle cx="313.9" cy="250.9" r="0.55"/><circle cx="318.4" cy="250.0" r="0.4"/><circle cx="321.5" cy="255.2" r="0.5"/><circle cx="327.9" cy="251.6" r="0.5"/><circle cx="285.8" cy="259.6" r="0.4"/><circle cx="291.4" cy="258.6" r="0.5"/><circle cx="295.2" cy="260.4" r="0.65"/><circle cx="300.9" cy="260.2" r="0.4"/><circle cx="303.3" cy="258.7" r="0.4"/><circle cx="307.6" cy="258.5" r="0.65"/><circle cx="312.2" cy="259.4" r="0.55"/><circle cx="316.9" cy="262.2" r="0.4"/><circle cx="323.0" cy="256.1" r="0.5"/><circle cx="326.4" cy="259.2" r="0.4"/><circle cx="287.1" cy="265.4" r="0.65"/><circle cx="292.7" cy="265.9" r="0.65"/><circle cx="297.5" cy="268.4" r="0.65"/><circle cx="301.8" cy="263.4" r="0.4"/><circle cx="306.6" cy="266.2" r="0.65"/><circle cx="308.8" cy="262.8" r="0.4"/><circle cx="312.7" cy="266.8" r="0.65"/><circle cx="319.0" cy="266.7" r="0.55"/><circle cx="324.1" cy="268.6" r="0.5"/><circle cx="325.1" cy="265.7" r="0.65"/><circle cx="289.3" cy="272.6" r="0.4"/><circle cx="291.7" cy="271.0" r="0.55"/><circle cx="296.7" cy="275.8" r="0.4"/><circle cx="302.6" cy="274.3" r="0.55"/><circle cx="306.4" cy="272.3" r="0.5"/><circle cx="308.0" cy="274.4" r="0.4"/><circle cx="315.4" cy="270.1" r="0.5"/><circle cx="316.3" cy="273.0" r="0.65"/><circle cx="320.2" cy="271.1" r="0.55"/><circle cx="324.7" cy="270.6" r="0.65"/><circle cx="288.9" cy="281.7" r="0.65"/><circle cx="290.0" cy="280.8" r="0.5"/><circle cx="294.0" cy="276.4" r="0.55"/><circle cx="299.6" cy="279.5" r="0.65"/><circle cx="306.5" cy="277.5" r="0.4"/><circle cx="307.9" cy="281.8" r="0.55"/><circle cx="315.4" cy="276.3" r="0.5"/><circle cx="318.1" cy="277.8" r="0.4"/><circle cx="323.1" cy="278.2" r="0.55"/><circle cx="328.8" cy="278.0" r="0.65"/><circle cx="288.1" cy="283.8" r="0.65"/><circle cx="291.2" cy="284.1" r="0.55"/><circle cx="294.3" cy="287.6" r="0.55"/><circle cx="299.0" cy="284.5" r="0.55"/><circle cx="306.1" cy="285.4" r="0.4"/><circle cx="309.6" cy="284.5" r="0.55"/><circle cx="315.3" cy="284.1" r="0.5"/><circle cx="317.0" cy="287.2" r="0.4"/><circle cx="322.2" cy="283.4" r="0.4"/><circle cx="326.9" cy="283.2" r="0.55"/><circle cx="287.4" cy="292.5" r="0.4"/><circle cx="290.1" cy="296.4" r="0.5"/><circle cx="294.9" cy="291.6" r="0.4"/><circle cx="299.0" cy="295.7" r="0.4"/><circle cx="305.3" cy="295.9" r="0.65"/><circle cx="307.0" cy="295.7" r="0.4"/><circle cx="312.2" cy="293.4" r="0.55"/><circle cx="317.2" cy="292.9" r="0.4"/><circle cx="322.5" cy="293.1" r="0.5"/><circle cx="327.2" cy="294.9" r="0.4"/><circle cx="287.7" cy="298.0" r="0.65"/><circle cx="291.8" cy="298.2" r="0.5"/><circle cx="294.9" cy="300.1" r="0.65"/><circle cx="299.3" cy="297.8" r="0.4"/><circle cx="305.1" cy="302.3" r="0.5"/><circle cx="308.4" cy="300.5" r="0.65"/><circle cx="314.9" cy="299.8" r="0.55"/><circle cx="319.6" cy="296.6" r="0.4"/><circle cx="324.2" cy="300.3" r="0.5"/><circle cx="327.3" cy="296.8" r="0.65"/><circle cx="285.2" cy="305.3" r="0.55"/><circle cx="292.8" cy="306.6" r="0.5"/><circle cx="295.5" cy="304.9" r="0.65"/><circle cx="301.2" cy="308.8" r="0.65"/><circle cx="302.9" cy="306.0" r="0.55"/><circle cx="310.1" cy="307.9" r="0.4"/><circle cx="312.0" cy="308.3" r="0.5"/><circle cx="316.4" cy="306.3" r="0.4"/><circle cx="320.2" cy="306.0" r="0.5"/><circle cx="325.0" cy="307.0" r="0.65"/><circle cx="286.9" cy="310.5" r="0.4"/><circle cx="292.4" cy="314.8" r="0.5"/><circle cx="295.1" cy="310.8" r="0.5"/><circle cx="300.0" cy="310.5" r="0.5"/><circle cx="304.2" cy="312.2" r="0.5"/><circle cx="307.2" cy="312.7" r="0.4"/><circle cx="314.6" cy="313.8" r="0.5"/><circle cx="317.8" cy="312.6" r="0.5"/><circle cx="321.9" cy="315.2" r="0.5"/><circle cx="326.4" cy="311.6" r="0.5"/><circle cx="287.1" cy="319.4" r="0.65"/><circle cx="292.7" cy="319.9" r="0.65"/><circle cx="298.2" cy="321.3" r="0.65"/><circle cx="299.1" cy="319.3" r="0.4"/><circle cx="302.8" cy="318.6" r="0.55"/><circle cx="309.7" cy="320.2" r="0.55"/><circle cx="313.7" cy="320.5" r="0.5"/><circle cx="317.0" cy="319.1" r="0.5"/><circle cx="323.4" cy="322.0" r="0.5"/><circle cx="328.0" cy="321.6" r="0.4"/><circle cx="285.1" cy="325.6" r="0.65"/><circle cx="291.4" cy="329.2" r="0.65"/><circle cx="295.2" cy="328.7" r="0.4"/><circle cx="299.5" cy="327.6" r="0.65"/><circle cx="302.8" cy="324.5" r="0.5"/><circle cx="307.1" cy="325.6" r="0.65"/><circle cx="313.5" cy="328.2" r="0.55"/><circle cx="317.2" cy="326.5" r="0.65"/><circle cx="320.8" cy="324.9" r="0.55"/><circle cx="327.0" cy="326.5" r="0.5"/><circle cx="286.7" cy="336.1" r="0.5"/><circle cx="289.9" cy="332.7" r="0.5"/><circle cx="294.4" cy="336.0" r="0.65"/><circle cx="300.7" cy="335.7" r="0.55"/><circle cx="305.5" cy="330.7" r="0.5"/><circle cx="309.5" cy="332.6" r="0.4"/><circle cx="315.6" cy="336.1" r="0.5"/><circle cx="319.2" cy="332.0" r="0.65"/><circle cx="320.7" cy="333.6" r="0.65"/><circle cx="326.3" cy="332.4" r="0.65"/><circle cx="288.1" cy="338.5" r="0.65"/><circle cx="290.3" cy="342.2" r="0.55"/><circle cx="296.7" cy="338.6" r="0.4"/><circle cx="301.5" cy="343.1" r="0.5"/><circle cx="304.7" cy="338.7" r="0.55"/><circle cx="310.1" cy="337.1" r="0.65"/><circle cx="311.9" cy="343.1" r="0.65"/><circle cx="317.0" cy="339.5" r="0.55"/><circle cx="322.3" cy="339.2" r="0.55"/><circle cx="324.9" cy="337.2" r="0.55"/><circle cx="288.9" cy="347.6" r="0.55"/><circle cx="293.0" cy="349.7" r="0.65"/><circle cx="295.5" cy="346.0" r="0.55"/><circle cx="298.3" cy="348.5" r="0.5"/><circle cx="306.0" cy="348.0" r="0.65"/><circle cx="309.7" cy="344.2" r="0.4"/><circle cx="315.1" cy="349.7" r="0.65"/><circle cx="320.1" cy="346.3" r="0.5"/><circle cx="323.2" cy="345.6" r="0.65"/><circle cx="326.2" cy="350.3" r="0.5"/><circle cx="287.7" cy="352.3" r="0.55"/><circle cx="292.4" cy="352.1" r="0.4"/><circle cx="297.9" cy="357.1" r="0.4"/><circle cx="299.3" cy="353.8" r="0.4"/><circle cx="305.3" cy="354.3" r="0.55"/><circle cx="308.2" cy="351.2" r="0.4"/><circle cx="312.8" cy="355.3" r="0.65"/><circle cx="318.8" cy="357.0" r="0.5"/><circle cx="320.9" cy="354.7" r="0.65"/><circle cx="328.1" cy="352.5" r="0.65"/><circle cx="286.3" cy="362.3" r="0.65"/><circle cx="290.4" cy="358.9" r="0.55"/><circle cx="296.9" cy="363.5" r="0.5"/><circle cx="302.1" cy="363.9" r="0.4"/><circle cx="306.5" cy="359.4" r="0.65"/><circle cx="309.3" cy="361.8" r="0.4"/><circle cx="312.1" cy="363.1" r="0.65"/><circle cx="316.0" cy="359.0" r="0.65"/><circle cx="321.3" cy="361.5" r="0.55"/><circle cx="327.7" cy="359.5" r="0.55"/><circle cx="288.8" cy="365.4" r="0.5"/><circle cx="291.9" cy="366.9" r="0.5"/><circle cx="296.5" cy="369.6" r="0.5"/><circle cx="298.8" cy="366.6" r="0.55"/><circle cx="303.6" cy="365.3" r="0.4"/><circle cx="309.1" cy="368.7" r="0.5"/><circle cx="312.6" cy="365.8" r="0.55"/><circle cx="318.6" cy="366.7" r="0.5"/><circle cx="320.4" cy="368.8" r="0.4"/><circle cx="328.4" cy="365.3" r="0.55"/><circle cx="288.2" cy="377.5" r="0.4"/><circle cx="291.2" cy="376.9" r="0.65"/><circle cx="294.6" cy="371.2" r="0.65"/><circle cx="301.7" cy="376.4" r="0.55"/><circle cx="303.6" cy="375.7" r="0.65"/><circle cx="310.4" cy="377.4" r="0.65"/><circle cx="314.4" cy="372.2" r="0.55"/><circle cx="319.3" cy="371.8" r="0.5"/><circle cx="323.9" cy="374.5" r="0.55"/><circle cx="328.5" cy="373.7" r="0.5"/><circle cx="286.4" cy="377.7" r="0.5"/><circle cx="290.6" cy="380.2" r="0.55"/><circle cx="294.8" cy="380.8" r="0.55"/><circle cx="300.6" cy="381.3" r="0.5"/><circle cx="302.9" cy="383.6" r="0.55"/><circle cx="309.9" cy="377.6" r="0.55"/><circle cx="313.5" cy="384.3" r="0.5"/><circle cx="320.2" cy="380.3" r="0.4"/><circle cx="322.0" cy="383.0" r="0.65"/><circle cx="327.1" cy="379.0" r="0.55"/><circle cx="286.2" cy="390.6" r="0.5"/><circle cx="293.8" cy="387.3" r="0.4"/><circle cx="294.6" cy="384.5" r="0.5"/><circle cx="300.6" cy="388.9" r="0.55"/><circle cx="304.2" cy="389.4" r="0.55"/><circle cx="307.3" cy="387.4" r="0.5"/><circle cx="311.7" cy="386.8" r="0.55"/><circle cx="319.4" cy="389.6" r="0.65"/><circle cx="322.0" cy="389.7" r="0.4"/><circle cx="328.7" cy="387.5" r="0.65"/><circle cx="286.1" cy="397.2" r="0.4"/><circle cx="289.4" cy="392.0" r="0.55"/><circle cx="295.5" cy="393.5" r="0.55"/><circle cx="301.8" cy="393.5" r="0.65"/><circle cx="304.2" cy="392.9" r="0.55"/><circle cx="309.6" cy="392.8" r="0.5"/><circle cx="314.7" cy="392.5" r="0.5"/><circle cx="318.2" cy="395.6" r="0.5"/><circle cx="321.7" cy="392.1" r="0.55"/><circle cx="326.1" cy="394.0" r="0.4"/><circle cx="286.8" cy="398.2" r="0.4"/><circle cx="290.8" cy="401.4" r="0.5"/><circle cx="293.9" cy="399.0" r="0.4"/><circle cx="301.5" cy="398.5" r="0.55"/><circle cx="304.5" cy="404.3" r="0.5"/><circle cx="309.2" cy="403.1" r="0.5"/><circle cx="315.0" cy="398.3" r="0.65"/><circle cx="320.0" cy="400.0" r="0.5"/><circle cx="323.6" cy="401.4" r="0.4"/><circle cx="325.3" cy="402.1" r="0.65"/><circle cx="289.0" cy="404.9" r="0.55"/><circle cx="293.3" cy="410.4" r="0.65"/><circle cx="296.0" cy="408.4" r="0.4"/><circle cx="298.7" cy="409.6" r="0.65"/><circle cx="304.5" cy="407.7" r="0.65"/><circle cx="309.2" cy="407.1" r="0.4"/><circle cx="313.7" cy="404.8" r="0.65"/><circle cx="317.8" cy="408.6" r="0.4"/><circle cx="324.3" cy="405.6" r="0.65"/><circle cx="326.0" cy="406.3" r="0.55"/><circle cx="285.8" cy="414.5" r="0.65"/><circle cx="289.6" cy="417.9" r="0.65"/><circle cx="294.3" cy="412.6" r="0.5"/><circle cx="301.8" cy="416.7" r="0.55"/><circle cx="307.0" cy="411.8" r="0.4"/><circle cx="310.1" cy="413.0" r="0.55"/><circle cx="313.4" cy="414.9" r="0.65"/><circle cx="316.7" cy="413.2" r="0.5"/><circle cx="320.5" cy="415.1" r="0.65"/><circle cx="328.5" cy="411.8" r="0.65"/><circle cx="288.8" cy="423.3" r="0.4"/><circle cx="292.9" cy="419.1" r="0.55"/><circle cx="294.6" cy="420.3" r="0.55"/><circle cx="302.4" cy="419.6" r="0.55"/><circle cx="303.1" cy="419.3" r="0.65"/><circle cx="307.1" cy="422.7" r="0.65"/><circle cx="315.4" cy="418.6" r="0.5"/><circle cx="318.1" cy="420.2" r="0.5"/><circle cx="322.7" cy="424.8" r="0.65"/><circle cx="324.7" cy="420.4" r="0.55"/><circle cx="288.7" cy="431.2" r="0.5"/><circle cx="292.5" cy="426.1" r="0.5"/><circle cx="294.6" cy="428.8" r="0.4"/><circle cx="298.8" cy="425.6" r="0.55"/><circle cx="305.3" cy="427.3" r="0.5"/><circle cx="307.0" cy="425.3" r="0.5"/><circle cx="314.6" cy="427.3" r="0.55"/><circle cx="319.2" cy="426.2" r="0.4"/><circle cx="323.0" cy="427.7" r="0.65"/><circle cx="325.8" cy="425.7" r="0.4"/><circle cx="289.1" cy="433.9" r="0.65"/><circle cx="290.4" cy="435.5" r="0.55"/><circle cx="294.3" cy="437.5" r="0.4"/><circle cx="301.2" cy="434.7" r="0.65"/><circle cx="304.3" cy="436.6" r="0.5"/><circle cx="309.0" cy="432.0" r="0.65"/><circle cx="312.9" cy="435.5" r="0.55"/><circle cx="317.1" cy="436.3" r="0.5"/><circle cx="320.3" cy="434.1" r="0.55"/><circle cx="326.3" cy="433.5" r="0.4"/><circle cx="288.6" cy="444.1" r="0.4"/><circle cx="291.8" cy="439.0" r="0.5"/><circle cx="294.2" cy="440.8" r="0.55"/><circle cx="298.3" cy="442.3" r="0.55"/><circle cx="307.0" cy="443.9" r="0.4"/><circle cx="309.9" cy="439.4" r="0.4"/><circle cx="313.0" cy="441.5" r="0.55"/><circle cx="317.9" cy="442.8" r="0.4"/><circle cx="324.5" cy="445.0" r="0.65"/><circle cx="326.5" cy="439.9" r="0.4"/><circle cx="289.4" cy="445.6" r="0.65"/><circle cx="292.3" cy="450.5" r="0.5"/><circle cx="296.1" cy="449.1" r="0.65"/><circle cx="299.8" cy="446.1" r="0.65"/><circle cx="303.0" cy="450.5" r="0.4"/><circle cx="307.7" cy="449.5" r="0.55"/><circle cx="314.3" cy="451.7" r="0.65"/><circle cx="319.2" cy="445.9" r="0.65"/><circle cx="320.9" cy="447.6" r="0.55"/><circle cx="328.8" cy="451.2" r="0.4"/><circle cx="285.5" cy="454.7" r="0.4"/><circle cx="292.8" cy="452.5" r="0.4"/><circle cx="294.1" cy="453.5" r="0.4"/><circle cx="300.4" cy="454.0" r="0.55"/><circle cx="306.0" cy="453.5" r="0.65"/><circle cx="309.1" cy="458.6" r="0.65"/><circle cx="312.1" cy="452.6" r="0.5"/><circle cx="319.5" cy="452.6" r="0.5"/><circle cx="320.8" cy="455.7" r="0.5"/><circle cx="326.4" cy="456.0" r="0.4"/><circle cx="286.8" cy="458.7" r="0.5"/><circle cx="292.9" cy="459.4" r="0.65"/><circle cx="294.5" cy="462.2" r="0.4"/><circle cx="300.0" cy="462.0" r="0.4"/><circle cx="304.3" cy="460.7" r="0.5"/><circle cx="308.1" cy="459.4" r="0.65"/><circle cx="312.8" cy="461.9" r="0.5"/><circle cx="318.3" cy="462.0" r="0.4"/><circle cx="321.9" cy="460.7" r="0.55"/><circle cx="325.6" cy="459.2" r="0.65"/><circle cx="286.7" cy="469.8" r="0.55"/><circle cx="291.4" cy="465.7" r="0.4"/><circle cx="294.5" cy="468.0" r="0.55"/><circle cx="300.0" cy="466.9" r="0.4"/><circle cx="305.7" cy="465.6" r="0.55"/><circle cx="309.1" cy="466.9" r="0.65"/><circle cx="314.6" cy="467.9" r="0.4"/><circle cx="315.8" cy="469.4" r="0.5"/><circle cx="321.8" cy="469.4" r="0.55"/><circle cx="328.3" cy="466.8" r="0.4"/><circle cx="286.4" cy="475.5" r="0.55"/><circle cx="289.6" cy="472.8" r="0.55"/><circle cx="296.4" cy="477.6" r="0.65"/><circle cx="301.0" cy="474.7" r="0.4"/><circle cx="303.9" cy="476.7" r="0.4"/><circle cx="308.7" cy="473.7" r="0.55"/><circle cx="312.8" cy="474.3" r="0.5"/><circle cx="319.3" cy="476.5" r="0.4"/><circle cx="324.6" cy="475.5" r="0.65"/><circle cx="327.3" cy="475.9" r="0.55"/><circle cx="287.8" cy="479.1" r="0.5"/><circle cx="292.0" cy="478.9" r="0.65"/><circle cx="295.6" cy="483.5" r="0.4"/><circle cx="299.0" cy="479.5" r="0.5"/><circle cx="304.3" cy="481.9" r="0.65"/><circle cx="310.5" cy="481.9" r="0.4"/><circle cx="315.1" cy="485.4" r="0.55"/><circle cx="318.7" cy="482.6" r="0.4"/><circle cx="323.3" cy="481.6" r="0.4"/><circle cx="328.7" cy="480.3" r="0.65"/><circle cx="286.4" cy="486.6" r="0.4"/><circle cx="290.1" cy="487.5" r="0.65"/><circle cx="293.9" cy="488.6" r="0.65"/><circle cx="299.1" cy="490.4" r="0.65"/><circle cx="304.8" cy="490.3" r="0.65"/><circle cx="309.3" cy="488.9" r="0.5"/><circle cx="314.8" cy="487.9" r="0.4"/><circle cx="317.3" cy="486.8" r="0.55"/><circle cx="321.9" cy="491.1" r="0.65"/><circle cx="326.6" cy="489.6" r="0.65"/><circle cx="286.6" cy="496.4" r="0.65"/><circle cx="292.5" cy="495.1" r="0.4"/><circle cx="296.9" cy="494.0" r="0.55"/><circle cx="299.7" cy="495.2" r="0.4"/><circle cx="303.7" cy="492.9" r="0.55"/><circle cx="308.7" cy="497.3" r="0.65"/><circle cx="315.4" cy="492.9" r="0.5"/><circle cx="320.1" cy="498.6" r="0.65"/><circle cx="321.9" cy="493.2" r="0.5"/><circle cx="327.9" cy="493.1" r="0.55"/><circle cx="287.2" cy="500.2" r="0.55"/><circle cx="291.9" cy="502.9" r="0.55"/><circle cx="296.0" cy="502.2" r="0.55"/><circle cx="301.7" cy="499.8" r="0.5"/><circle cx="303.6" cy="500.5" r="0.55"/><circle cx="307.5" cy="504.3" r="0.5"/><circle cx="315.4" cy="505.4" r="0.55"/><circle cx="317.4" cy="505.6" r="0.55"/><circle cx="322.9" cy="504.8" r="0.55"/><circle cx="325.1" cy="501.6" r="0.5"/><circle cx="287.4" cy="507.6" r="0.55"/><circle cx="290.7" cy="509.7" r="0.55"/><circle cx="295.9" cy="507.8" r="0.55"/><circle cx="301.7" cy="512.3" r="0.5"/><circle cx="306.4" cy="507.0" r="0.5"/><circle cx="309.7" cy="509.6" r="0.5"/><circle cx="313.8" cy="510.4" r="0.55"/><circle cx="317.1" cy="508.8" r="0.55"/><circle cx="323.1" cy="509.6" r="0.65"/><circle cx="326.6" cy="508.4" r="0.5"/><circle cx="289.2" cy="516.1" r="0.55"/><circle cx="293.3" cy="513.2" r="0.4"/><circle cx="296.3" cy="519.0" r="0.4"/><circle cx="299.5" cy="512.7" r="0.4"/><circle cx="303.5" cy="515.2" r="0.55"/><circle cx="310.8" cy="513.1" r="0.4"/><circle cx="312.0" cy="515.5" r="0.5"/><circle cx="320.1" cy="517.3" r="0.4"/><circle cx="322.1" cy="517.3" r="0.4"/><circle cx="326.9" cy="515.1" r="0.65"/><circle cx="289.1" cy="525.4" r="0.4"/><circle cx="291.2" cy="522.7" r="0.4"/><circle cx="296.9" cy="519.7" r="0.4"/><circle cx="298.8" cy="521.5" r="0.55"/><circle cx="303.6" cy="521.3" r="0.5"/><circle cx="311.3" cy="525.9" r="0.5"/><circle cx="315.2" cy="525.8" r="0.4"/><circle cx="318.5" cy="524.8" r="0.55"/><circle cx="324.3" cy="520.0" r="0.5"/><circle cx="328.8" cy="519.7" r="0.4"/><circle cx="286.3" cy="528.2" r="0.4"/><circle cx="291.2" cy="527.2" r="0.5"/><circle cx="296.8" cy="529.7" r="0.4"/><circle cx="298.2" cy="526.7" r="0.5"/><circle cx="306.9" cy="531.8" r="0.65"/><circle cx="308.5" cy="527.7" r="0.65"/><circle cx="311.5" cy="531.4" r="0.55"/><circle cx="316.0" cy="528.7" r="0.55"/><circle cx="322.5" cy="528.6" r="0.5"/><circle cx="328.7" cy="529.0" r="0.5"/><circle cx="285.7" cy="534.7" r="0.65"/><circle cx="290.4" cy="539.2" r="0.5"/><circle cx="294.8" cy="537.4" r="0.55"/><circle cx="300.8" cy="536.8" r="0.4"/><circle cx="303.4" cy="534.5" r="0.55"/><circle cx="309.2" cy="538.0" r="0.5"/><circle cx="314.4" cy="538.3" r="0.4"/><circle cx="316.1" cy="538.1" r="0.5"/><circle cx="322.1" cy="533.3" r="0.5"/><circle cx="326.2" cy="535.4" r="0.4"/><circle cx="289.4" cy="542.3" r="0.5"/><circle cx="291.2" cy="544.3" r="0.5"/><circle cx="295.3" cy="545.1" r="0.65"/><circle cx="302.2" cy="543.5" r="0.4"/><circle cx="304.7" cy="545.3" r="0.4"/><circle cx="307.2" cy="539.9" r="0.4"/><circle cx="313.3" cy="540.8" r="0.4"/><circle cx="316.7" cy="545.7" r="0.5"/><circle cx="324.3" cy="542.0" r="0.5"/><circle cx="325.2" cy="544.6" r="0.4"/><circle cx="285.8" cy="547.4" r="0.5"/><circle cx="293.3" cy="551.4" r="0.65"/><circle cx="295.4" cy="551.4" r="0.55"/><circle cx="298.8" cy="552.4" r="0.5"/><circle cx="305.8" cy="551.1" r="0.4"/><circle cx="308.4" cy="547.7" r="0.4"/><circle cx="312.6" cy="550.0" r="0.65"/><circle cx="319.2" cy="550.0" r="0.4"/><circle cx="320.6" cy="548.0" r="0.4"/><circle cx="328.7" cy="553.1" r="0.5"/><circle cx="285.7" cy="555.5" r="0.4"/><circle cx="290.7" cy="558.6" r="0.65"/><circle cx="295.3" cy="560.0" r="0.65"/><circle cx="300.2" cy="554.5" r="0.65"/><circle cx="306.9" cy="553.4" r="0.65"/><circle cx="309.4" cy="555.1" r="0.4"/><circle cx="312.2" cy="558.2" r="0.5"/><circle cx="320.0" cy="553.4" r="0.65"/><circle cx="323.7" cy="556.6" r="0.4"/><circle cx="326.6" cy="554.5" r="0.4"/></g>
<line x1="329.60" y1="141.00" x2="329.60" y2="615.00" stroke="#5a5a5a" stroke-width="1.5"/>
<path d="M351.5,189.75 L351.5,48.5 A22.5,22.5 0 0 1 374.3,26.2 L484.5,26.2 Q500,26 505.8,46.3 L509.8,66.4" stroke="#2e2e2e" stroke-width="1.1" fill="none" />
<path d="M360.5,189 L360.5,48.5 A14,14 0 0 1 374.3,35 L484.5,35 Q495,36 498,47.4 L500.2,66" stroke="#2e2e2e" stroke-width="1.1" fill="none" />
<line x1="374.50" y1="26.20" x2="374.50" y2="35.00" stroke="#2e2e2e" stroke-width="1.3"/>
<line x1="484.50" y1="26.20" x2="484.50" y2="35.00" stroke="#2e2e2e" stroke-width="1.3"/>
<line x1="351.50" y1="48.50" x2="360.50" y2="48.50" stroke="#2e2e2e" stroke-width="1.3"/>
<line x1="498.00" y1="47.00" x2="506.00" y2="46.50" stroke="#2e2e2e" stroke-width="0.9"/>
<rect x="499.5" y="66" width="11" height="6" rx="0" stroke="#2e2e2e" stroke-width="1.1" fill="none"/>
<rect x="495.9" y="73.5" width="16.6" height="9.3" rx="0" stroke="#2e2e2e" stroke-width="1.1" fill="none"/>
<path d="M459.5,94.3 L459.5,88 Q461,86 470,85 Q504,80 540,85 Q548,86 548.8,88 L548.8,94.3 Z" stroke="#2e2e2e" stroke-width="1.1" fill="none" />
<line x1="459.50" y1="88.00" x2="548.80" y2="88.00" stroke="#1a1a1a" stroke-width="1.7"/>
<line x1="459.50" y1="94.30" x2="548.80" y2="94.30" stroke="#1a1a1a" stroke-width="1.9"/>
<line x1="504.50" y1="60.00" x2="504.50" y2="140.00" stroke="#2e2e2e" stroke-width="1.3"/>
<line x1="459.50" y1="95.00" x2="459.50" y2="125.00" stroke="#2e2e2e" stroke-width="1.3"/>
<line x1="548.50" y1="95.00" x2="548.50" y2="125.00" stroke="#2e2e2e" stroke-width="1.3"/>
<line x1="459.50" y1="121.50" x2="548.80" y2="121.50" stroke="#2e2e2e" stroke-width="1.3"/>
<polygon points="459.50,121.50 465.50,120.15 465.50,122.85" fill="#151515" stroke="#151515" stroke-width="0.5"/>
<polygon points="548.50,121.50 542.50,120.15 542.50,122.85" fill="#151515" stroke="#151515" stroke-width="0.5"/>
<text transform="translate(472.72,119.48) scale(0.748,1)" font-size="14.86" fill="#1a1a1a" stroke="#1a1a1a" stroke-width="0.47">200</text>
<line x1="356.30" y1="135.50" x2="504.60" y2="135.50" stroke="#2e2e2e" stroke-width="1.3"/>
<polygon points="360.50,135.50 366.50,134.15 366.50,136.85" fill="#151515" stroke="#151515" stroke-width="0.5"/>
<polygon points="504.50,135.50 498.50,134.15 498.50,136.85" fill="#151515" stroke="#151515" stroke-width="0.5"/>
<text transform="translate(421.26,133.19) scale(0.774,1)" font-size="13.45" fill="#1a1a1a" stroke="#1a1a1a" stroke-width="0.45">330</text>
<line x1="319.00" y1="159.50" x2="397.10" y2="159.50" stroke="#2e2e2e" stroke-width="1.3"/>
<polygon points="329.50,159.50 324.50,158.15 324.50,160.85" fill="#151515" stroke="#151515" stroke-width="0.5"/>
<polygon points="360.50,159.50 365.50,158.15 365.50,160.85" fill="#151515" stroke="#151515" stroke-width="0.5"/>
<text transform="translate(368.55,157.28) scale(0.722,1)" font-size="14.72" fill="#1a1a1a" stroke="#1a1a1a" stroke-width="0.48">50-70</text>
<line x1="356.50" y1="133.00" x2="356.50" y2="302.00" stroke="#2e2e2e" stroke-width="0.8"/>
<line x1="360.60" y1="207.50" x2="360.60" y2="282.50" stroke="#2e2e2e" stroke-width="1.3"/>
<line x1="361.70" y1="299.50" x2="361.70" y2="427.20" stroke="#2e2e2e" stroke-width="1.3"/>
<line x1="351.50" y1="207.50" x2="351.50" y2="282.50" stroke="#2e2e2e" stroke-width="1.3"/>
<line x1="350.90" y1="299.50" x2="350.90" y2="490.80" stroke="#2e2e2e" stroke-width="1.3"/>
<rect x="330" y="189.75" width="20.6" height="17.75" rx="0" stroke="#2e2e2e" stroke-width="1.1" fill="none"/>
<rect x="350.6" y="189.75" width="17.5" height="17.75" rx="0" stroke="#2e2e2e" stroke-width="1.1" fill="none"/>
<line x1="320.00" y1="198.50" x2="370.00" y2="198.50" stroke="#2e2e2e" stroke-width="1.3"/>
<path d="M351.5,189.75 Q356,194 360.6,189.75" stroke="#2e2e2e" stroke-width="1.0" fill="none" />
<path d="M351.5,207.5 Q356,203 360.6,207.5" stroke="#2e2e2e" stroke-width="1.0" fill="none" />
<path d="M395,172 C385,190 368,215 362,240 L362.5,280" stroke="#2e2e2e" stroke-width="1.4" fill="none" />
<path d="M395,172 C388,184 380,196 374,210" stroke="#2e2e2e" stroke-width="2.4" fill="none" />
<path d="M393.5,177.5 C383,195 370,218 364,240" stroke="#2e2e2e" stroke-width="0.8" fill="none" />
<path d="M395,172 Q399,172.5 401.9,174.6 C395,188 385,210 374.5,240 L364.4,281" stroke="#2e2e2e" stroke-width="1.5" fill="none" />
<path d="M381,223 Q377,232 374,240" stroke="#2e2e2e" stroke-width="3.0" fill="none" />
<line x1="376.80" y1="207.80" x2="383.00" y2="211.70" stroke="#2e2e2e" stroke-width="1.1"/>
<line x1="374.00" y1="215.20" x2="379.50" y2="217.60" stroke="#2e2e2e" stroke-width="1.1"/>
<line x1="365.50" y1="235.20" x2="371.70" y2="238.30" stroke="#2e2e2e" stroke-width="1.1"/>
<circle cx="355.6" cy="291.25" r="9.1" stroke="#2e2e2e" stroke-width="1.8" fill="none"/>
<line x1="344.00" y1="291.50" x2="367.00" y2="291.50" stroke="#2e2e2e" stroke-width="1.1"/>
<line x1="355.50" y1="281.00" x2="355.50" y2="302.00" stroke="#2e2e2e" stroke-width="1.1"/>
<rect x="352.5" y="279.4" width="6.9" height="2.5" rx="0" stroke="#2e2e2e" stroke-width="1.1" fill="none"/>
<path d="M361.80,323.50 C363.00,325.92 366.23,331.92 369.00,338.00 C371.77,344.08 375.23,352.67 378.40,360.00 C381.57,367.33 385.23,375.33 388.00,382.00 C390.77,388.67 393.00,393.67 395.00,400.00 C397.00,406.33 398.33,411.67 400.00,420.00 C401.67,428.33 403.58,440.83 405.00,450.00 C406.42,459.17 407.17,466.67 408.50,475.00 C409.83,483.33 412.42,491.67 413.00,500.00 C413.58,508.33 413.83,517.17 412.00,525.00 C410.17,532.83 406.67,542.05 402.00,547.00 C397.33,551.95 389.00,554.20 384.00,554.70 C379.00,555.20 375.08,552.45 372.00,550.00 C368.92,547.55 367.00,544.00 365.50,540.00 C364.00,536.00 363.50,529.33 363.00,526.00 C362.50,522.67 362.58,521.00 362.50,520.00" stroke="#2e2e2e" stroke-width="1.2" fill="none" />
<path d="M361.80,342.30 C362.50,343.92 364.72,349.05 366.00,352.00 C367.28,354.95 367.33,355.33 369.50,360.00 C371.67,364.67 375.85,373.33 379.00,380.00 C382.15,386.67 386.07,392.08 388.40,400.00 C390.73,407.92 391.27,417.92 393.00,427.50 C394.73,437.08 397.33,449.58 398.75,457.50 C400.17,465.42 400.51,467.92 401.50,475.00 C402.49,482.08 404.45,492.17 404.70,500.00 C404.95,507.83 404.45,515.33 403.00,522.00 C401.55,528.67 399.17,535.62 396.00,540.00 C392.83,544.38 387.67,547.80 384.00,548.30 C380.33,548.80 376.67,545.38 374.00,543.00 C371.33,540.62 369.42,537.17 368.00,534.00 C366.58,530.83 366.00,526.33 365.50,524.00 C365.00,521.67 365.08,520.67 365.00,520.00" stroke="#2e2e2e" stroke-width="1.2" fill="none" />
<rect x="353.2" y="427.2" width="13.1" height="63.6" rx="0" stroke="#2e2e2e" stroke-width="1.1" fill="none"/>
<line x1="357.50" y1="427.20" x2="357.50" y2="490.80" stroke="#2e2e2e" stroke-width="1.3"/>
<line x1="361.50" y1="427.20" x2="361.50" y2="490.80" stroke="#2e2e2e" stroke-width="1.3"/>
<circle cx="359.6" cy="440" r="6.4" stroke="#2e2e2e" stroke-width="0" fill="#111"/>
<rect x="330.4" y="485.2" width="8.4" height="27.1" rx="1.5" stroke="#2e2e2e" stroke-width="1.2" fill="none"/>
<rect x="338.8" y="491.6" width="6.8" height="13.5" rx="0" stroke="#2e2e2e" stroke-width="1.1" fill="none"/>
<line x1="338.80" y1="495.50" x2="345.60" y2="495.50" stroke="#2e2e2e" stroke-width="0.8"/>
<line x1="338.80" y1="501.50" x2="345.60" y2="501.50" stroke="#2e2e2e" stroke-width="0.8"/>
<path d="M346.4,490.8 L380.7,490.8 L391.9,498.8 L384.7,503.5 L363,507.5 L346.4,507.5 Z" stroke="#2e2e2e" stroke-width="1.2" fill="none" />
<line x1="380.70" y1="490.80" x2="384.70" y2="503.50" stroke="#2e2e2e" stroke-width="0.6"/>
<rect x="355.1" y="490.8" width="8" height="16.7" rx="0" stroke="#2e2e2e" stroke-width="1.1" fill="none"/>
<line x1="348.50" y1="490.80" x2="348.50" y2="507.50" stroke="#2e2e2e" stroke-width="0.8"/>
<line x1="328.00" y1="500.30" x2="601.00" y2="500.30" stroke="#2e2e2e" stroke-width="1.3"/>
<line x1="380.70" y1="490.50" x2="395.00" y2="490.50" stroke="#2e2e2e" stroke-width="1.3"/>
<line x1="363.00" y1="507.50" x2="395.00" y2="507.50" stroke="#2e2e2e" stroke-width="1.3"/>
<rect x="355.1" y="507.5" width="9.6" height="12.8" rx="0" stroke="#2e2e2e" stroke-width="1.1" fill="none"/>
<rect x="357.6" y="508" width="4.6" height="12" rx="0" stroke="#2e2e2e" stroke-width="0" fill="#888"/>
<line x1="392.20" y1="480.00" x2="392.20" y2="615.00" stroke="#2e2e2e" stroke-width="1.2"/>
<polygon points="392.20,490.80 390.85,485.80 393.55,485.80" fill="#151515" stroke="#151515" stroke-width="0.5"/>
<polygon points="392.20,507.00 390.85,512.00 393.55,512.00" fill="#151515" stroke="#151515" stroke-width="0.5"/>
<text transform="translate(389.68,531.85) rotate(-90) scale(0.723,1)" font-size="14.72" fill="#1a1a1a" stroke="#1a1a1a" stroke-width="0.48">37</text>
<path d="M356.50,521.00 C355.83,522.67 353.25,527.67 352.50,531.00 C351.75,534.33 351.42,538.33 352.00,541.00 C352.58,543.67 353.50,545.33 356.00,547.00 C358.50,548.67 366.33,549.92 367.00,551.00 C367.67,552.08 362.58,552.83 360.00,553.50 C357.42,554.17 351.83,554.00 351.50,555.00 C351.17,556.00 355.33,558.17 358.00,559.50 C360.67,560.83 367.17,561.92 367.50,563.00 C367.83,564.08 362.67,565.17 360.00,566.00 C357.33,566.83 352.50,566.92 351.50,568.00 C350.50,569.08 352.25,571.92 354.00,572.50 C355.75,573.08 359.58,570.58 362.00,571.50 C364.42,572.42 367.83,575.25 368.50,578.00 C369.17,580.75 367.75,585.75 366.00,588.00 C364.25,590.25 360.50,591.83 358.00,591.50 C355.50,591.17 351.92,588.58 351.00,586.00 C350.08,583.42 351.00,578.17 352.50,576.00 C354.00,573.83 357.67,572.50 360.00,573.00 C362.33,573.50 365.83,576.67 366.50,579.00 C367.17,581.33 365.58,585.75 364.00,587.00 C362.42,588.25 358.50,587.67 357.00,586.50 C355.50,585.33 355.33,581.08 355.00,580.00" stroke="#2e2e2e" stroke-width="4.6" fill="none" />
<path d="M356.50,521.00 C355.83,522.67 353.25,527.67 352.50,531.00 C351.75,534.33 351.42,538.33 352.00,541.00 C352.58,543.67 353.50,545.33 356.00,547.00 C358.50,548.67 366.33,549.92 367.00,551.00 C367.67,552.08 362.58,552.83 360.00,553.50 C357.42,554.17 351.83,554.00 351.50,555.00 C351.17,556.00 355.33,558.17 358.00,559.50 C360.67,560.83 367.17,561.92 367.50,563.00 C367.83,564.08 362.67,565.17 360.00,566.00 C357.33,566.83 352.50,566.92 351.50,568.00 C350.50,569.08 352.25,571.92 354.00,572.50 C355.75,573.08 359.58,570.58 362.00,571.50 C364.42,572.42 367.83,575.25 368.50,578.00 C369.17,580.75 367.75,585.75 366.00,588.00 C364.25,590.25 360.50,591.83 358.00,591.50 C355.50,591.17 351.92,588.58 351.00,586.00 C350.08,583.42 351.00,578.17 352.50,576.00 C354.00,573.83 357.67,572.50 360.00,573.00 C362.33,573.50 365.83,576.67 366.50,579.00 C367.17,581.33 365.58,585.75 364.00,587.00 C362.42,588.25 358.50,587.67 357.00,586.50 C355.50,585.33 355.33,581.08 355.00,580.00" stroke="#fff" stroke-width="2.3" fill="none" />
<path d="M362.00,521.00 C361.92,522.83 362.00,528.17 361.50,532.00 C361.00,535.83 359.42,542.00 359.00,544.00" stroke="#2e2e2e" stroke-width="4.6" fill="none" />
<path d="M362.00,521.00 C361.92,522.83 362.00,528.17 361.50,532.00 C361.00,535.83 359.42,542.00 359.00,544.00" stroke="#fff" stroke-width="2.3" fill="none" />
<line x1="329.60" y1="610.50" x2="392.80" y2="610.50" stroke="#2e2e2e" stroke-width="1.3"/>
<polygon points="329.60,610.50 335.60,609.15 335.60,611.85" fill="#151515" stroke="#151515" stroke-width="0.5"/>
<polygon points="392.20,610.50 386.20,609.15 386.20,611.85" fill="#151515" stroke="#151515" stroke-width="0.5"/>
<text transform="translate(352.18,608.38) scale(0.712,1)" font-size="14.86" fill="#1a1a1a" stroke="#1a1a1a" stroke-width="0.49">140</text>
<line x1="484.50" y1="26.20" x2="601.30" y2="26.20" stroke="#2e2e2e" stroke-width="1.3"/>
<line x1="598.30" y1="26.20" x2="598.30" y2="500.50" stroke="#2e2e2e" stroke-width="1.3"/>
<polygon points="598.30,26.40 596.95,32.40 599.65,32.40" fill="#151515" stroke="#151515" stroke-width="0.5"/>
<polygon points="598.30,500.30 596.95,494.30 599.65,494.30" fill="#151515" stroke="#151515" stroke-width="0.5"/>
<line x1="548.80" y1="93.30" x2="564.00" y2="93.30" stroke="#2e2e2e" stroke-width="1.3"/>
<line x1="560.20" y1="93.30" x2="560.20" y2="500.50" stroke="#2e2e2e" stroke-width="1.3"/>
<polygon points="560.20,93.50 558.85,99.50 561.55,99.50" fill="#151515" stroke="#151515" stroke-width="0.5"/>
<polygon points="560.20,500.30 558.85,494.30 561.55,494.30" fill="#151515" stroke="#151515" stroke-width="0.5"/>
<text transform="translate(554.57,301.58) rotate(-90) scale(0.836,1)" font-size="13.10" fill="#1a1a1a" stroke="#1a1a1a" stroke-width="0.42">(720-1100)</text>
<text transform="translate(592.49,269.60) rotate(-90) scale(0.898,1)" font-size="12.57" fill="#1a1a1a" stroke="#1a1a1a" stroke-width="0.39">(870-1250)</text>
<text transform="translate(432.85,604.71) scale(1.148,1)" font-size="20.67" fill="#1d62c4" stroke="#1d62c4" stroke-width="0.78">Promtorg</text>
<text transform="translate(529.77,604.56) scale(1.062,1)" font-size="21.39" fill="#161616" stroke="#161616" stroke-width="0.85">shop</text>
<path d="M433.2,620.6 Q470,609.2 516,609.4 Q525.5,609.6 527.2,604.5 L529.2,605 Q528.5,612.5 516,612.6 Q472,612.5 434.4,622.6 Z" fill="#1d62c4" stroke="#1d62c4" stroke-width="0.6"/>
</svg></body></html>
